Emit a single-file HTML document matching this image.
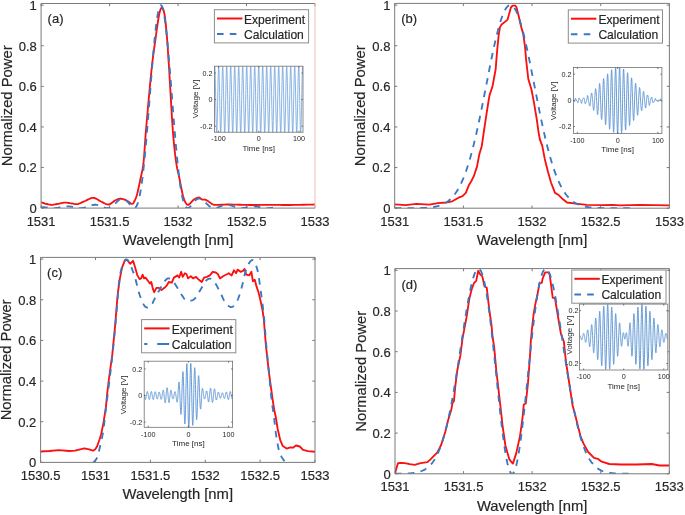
<!DOCTYPE html><html><head><meta charset="utf-8"><style>html,body{margin:0;padding:0;background:#fff}svg{display:block;will-change:transform}</style></head><body><svg width="685" height="515" viewBox="0 0 685 515">
<style>.ax{stroke:#7a7a7a;stroke-width:1;fill:none}.ai{stroke:#555;stroke-width:0.8}.tk,.lb,.lg{stroke:#262626;stroke-width:0.18px}.tk{font:13px "Liberation Sans", sans-serif;fill:#262626}.lb{font:14.8px "Liberation Sans", sans-serif;fill:#262626}.lg{font:12.1px "Liberation Sans", sans-serif;fill:#262626}.it{font:7.2px "Liberation Sans", sans-serif;fill:#262626}.il{font:8.0px "Liberation Sans", sans-serif;fill:#262626}</style>
<rect width="685" height="515" fill="#fff"/>
<clipPath id="ma"><rect x="41.1" y="3.5" width="273.9" height="204.6"/></clipPath>
<clipPath id="mb"><rect x="394.7" y="3.4" width="274.7" height="204.8"/></clipPath>
<clipPath id="mc"><rect x="40.6" y="257.4" width="274.4" height="205"/></clipPath>
<clipPath id="md"><rect x="395" y="268.6" width="274.3" height="205.2"/></clipPath>
<line x1="41.1" y1="208.1" x2="41.1" y2="205.4" class="ax"/>
<line x1="41.1" y1="3.5" x2="41.1" y2="6.2" class="ax"/>
<text x="41.1" y="225.7" class="tk" text-anchor="middle">1531</text>
<line x1="109.57" y1="208.1" x2="109.57" y2="205.4" class="ax"/>
<line x1="109.57" y1="3.5" x2="109.57" y2="6.2" class="ax"/>
<text x="109.57" y="225.7" class="tk" text-anchor="middle">1531.5</text>
<line x1="178.05" y1="208.1" x2="178.05" y2="205.4" class="ax"/>
<line x1="178.05" y1="3.5" x2="178.05" y2="6.2" class="ax"/>
<text x="178.05" y="225.7" class="tk" text-anchor="middle">1532</text>
<line x1="246.52" y1="208.1" x2="246.52" y2="205.4" class="ax"/>
<line x1="246.52" y1="3.5" x2="246.52" y2="6.2" class="ax"/>
<text x="246.52" y="225.7" class="tk" text-anchor="middle">1532.5</text>
<line x1="315" y1="208.1" x2="315" y2="205.4" class="ax"/>
<line x1="315" y1="3.5" x2="315" y2="6.2" class="ax"/>
<text x="315" y="225.7" class="tk" text-anchor="middle">1533</text>
<line x1="41.1" y1="208.1" x2="43.8" y2="208.1" class="ax"/>
<text x="36.8" y="213" class="tk" text-anchor="end">0</text>
<line x1="41.1" y1="167.52" x2="43.8" y2="167.52" class="ax"/>
<text x="36.8" y="172.42" class="tk" text-anchor="end">0.2</text>
<line x1="41.1" y1="126.94" x2="43.8" y2="126.94" class="ax"/>
<text x="36.8" y="131.84" class="tk" text-anchor="end">0.4</text>
<line x1="41.1" y1="86.36" x2="43.8" y2="86.36" class="ax"/>
<text x="36.8" y="91.26" class="tk" text-anchor="end">0.6</text>
<line x1="41.1" y1="45.78" x2="43.8" y2="45.78" class="ax"/>
<text x="36.8" y="50.68" class="tk" text-anchor="end">0.8</text>
<line x1="41.1" y1="5.2" x2="43.8" y2="5.2" class="ax"/>
<text x="36.8" y="10.1" class="tk" text-anchor="end">1</text>
<text x="178.05" y="244.8" class="lb" text-anchor="middle">Wavelength [nm]</text>
<text transform="translate(11.6 105.8) rotate(-90)" class="lb" text-anchor="middle">Normalized Power</text>
<g clip-path="url(#ma)">
<path d="M41 202.2 41.54 202.38 42.27 202.64 43.14 202.94 44.1 203.25 45.07 203.55 46 203.8 46.9 204.02 47.83 204.25 48.77 204.46 49.73 204.64 50.71 204.76 51.7 204.8 52.71 204.75 53.74 204.62 54.78 204.44 55.84 204.22 56.91 204 58 203.8 59.11 203.59 60.25 203.34 61.41 203.09 62.56 202.87 63.7 202.69 64.8 202.6 65.87 202.61 66.91 202.69 67.94 202.82 68.96 202.99 69.97 203.16 71 203.3 72.01 203.47 73.01 203.7 74 203.94 75.01 204.12 76.07 204.19 77.2 204.1 78.4 203.81 79.66 203.36 80.97 202.8 82.3 202.19 83.65 201.57 85 201 86.36 200.39 87.75 199.69 89.16 198.98 90.56 198.36 91.95 197.94 93.3 197.8 94.62 198.03 95.91 198.55 97.19 199.26 98.46 200.06 99.73 200.84 101 201.5 102.29 202.12 103.59 202.81 104.88 203.48 106.16 204.04 107.4 204.41 108.6 204.5 109.74 204.21 110.84 203.6 111.9 202.8 112.94 201.93 113.97 201.12 115 200.5 116.02 200.03 117.03 199.59 118.03 199.22 119.01 198.93 120 198.75 121 198.7 122.01 198.81 123.04 199.08 124.06 199.45 125.07 199.89 126.06 200.35 127 200.8 127.92 201.32 128.83 201.95 129.72 202.61 130.56 203.2 131.32 203.63 132 203.8 132.56 203.72 133.01 203.46 133.39 203.04 133.74 202.48 134.1 201.79 134.5 201 134.93 200.14 135.36 199.22 135.79 198.17 136.23 196.94 136.7 195.47 137.2 193.7 137.74 191.55 138.33 189.04 138.94 186.29 139.55 183.42 140.14 180.55 140.7 177.8 141.22 175.34 141.73 173.09 142.22 170.85 142.69 168.39 143.15 165.48 143.6 161.9 143.99 157.83 144.32 153.49 144.64 148.71 144.99 143.31 145.43 137.13 146 130 146.75 121.29 147.66 111.01 148.65 99.94 149.66 88.89 150.63 78.65 151.5 70 152.27 63.02 152.99 57.07 153.67 51.94 154.32 47.37 154.93 43.14 155.5 39 156.04 35.02 156.53 31.41 156.99 28.12 157.41 25.15 157.82 22.45 158.2 20 158.55 17.85 158.87 16.04 159.16 14.51 159.44 13.2 159.72 12.05 160 11 160.29 10.07 160.57 9.3 160.85 8.7 161.13 8.25 161.41 7.95 161.7 7.8 161.99 7.76 162.29 7.84 162.59 8.07 162.9 8.49 163.2 9.12 163.5 10 163.8 11.11 164.1 12.42 164.4 13.95 164.7 15.71 165 17.72 165.3 20 165.6 22.62 165.91 25.59 166.22 28.81 166.53 32.19 166.82 35.61 167.1 39 167.36 42.51 167.62 46.26 167.87 50.06 168.1 53.74 168.31 57.11 168.5 60 168.62 61.72 168.68 62.3 168.71 62.56 168.78 63.37 168.92 65.57 169.2 70 169.64 77.43 170.2 87.34 170.84 98.63 171.51 110.23 172.18 121.05 172.8 130 173.37 137.13 173.93 143.31 174.48 148.71 175.02 153.49 175.56 157.83 176.1 161.9 176.64 165.48 177.17 168.39 177.71 170.85 178.24 173.09 178.77 175.34 179.3 177.8 179.84 180.54 180.39 183.4 180.94 186.26 181.49 189 182.01 191.52 182.5 193.7 182.96 195.52 183.39 197.07 183.79 198.39 184.19 199.53 184.59 200.55 185 201.5 185.42 202.36 185.83 203.1 186.25 203.72 186.67 204.21 187.08 204.57 187.5 204.8 187.9 204.88 188.28 204.81 188.66 204.61 189.06 204.3 189.5 203.93 190 203.5 190.57 202.97 191.19 202.29 191.85 201.54 192.54 200.79 193.26 200.08 194 199.5 194.79 199 195.63 198.54 196.51 198.12 197.37 197.8 198.18 197.58 198.9 197.5 199.51 197.62 200.04 197.93 200.52 198.35 200.98 198.8 201.46 199.21 202 199.5 202.59 199.63 203.2 199.67 203.83 199.66 204.48 199.66 205.14 199.72 205.8 199.9 206.47 200.21 207.15 200.61 207.84 201.08 208.55 201.57 209.27 202.06 210 202.5 210.63 202.93 211.14 203.39 211.66 203.83 212.33 204.24 213.3 204.57 214.7 204.8 216.58 204.89 218.84 204.86 221.39 204.76 224.16 204.64 227.06 204.53 230 204.5 233.06 204.55 236.32 204.63 239.71 204.74 243.16 204.86 246.61 204.95 250 205 253.33 205 256.67 204.97 260 204.92 263.33 204.86 266.67 204.82 270 204.8 273.28 204.82 276.48 204.86 279.69 204.92 282.96 204.97 286.38 205 290 205 294.17 204.95 298.89 204.87 303.75 204.76 308.33 204.66 312.22 204.56 315 204.5" fill="none" stroke="#fb1010" stroke-width="1.85" stroke-linejoin="round"/>
<path d="M41.1 207.08 41.69 207.09 42.29 207.11 42.88 207.14 43.48 207.17 44.07 207.22 44.66 207.27 45.26 207.33 45.85 207.4 46.44 207.47 47.04 207.54 47.63 207.61 48.23 207.69 48.82 207.76 49.41 207.83 50.01 207.89 50.6 207.95 51.19 208 51.79 208.04 52.38 208.07 52.98 208.09 53.57 208.1 54.16 208.1 54.76 208.08 55.35 208.05 55.94 208.01 56.54 207.95 57.13 207.88 57.73 207.81 58.32 207.72 58.91 207.63 59.51 207.52 60.1 207.42 60.7 207.31 61.29 207.19 61.88 207.08 62.48 206.97 63.07 206.87 63.66 206.77 64.26 206.68 64.85 206.6 65.45 206.54 66.04 206.48 66.63 206.44 67.23 206.42 67.82 206.41 68.41 206.42 69.01 206.44 69.6 206.48 70.2 206.54 70.79 206.61 71.38 206.69 71.98 206.79 72.57 206.89 73.16 207.01 73.76 207.13 74.35 207.25 74.95 207.37 75.54 207.5 76.13 207.61 76.73 207.73 77.32 207.83 77.92 207.91 78.51 207.99 79.1 208.04 79.7 208.08 80.29 208.1 80.88 208.09 81.48 208.07 82.07 208.02 82.67 207.94 83.26 207.85 83.85 207.73 84.45 207.59 85.04 207.43 85.63 207.25 86.23 207.06 86.82 206.86 87.42 206.65 88.01 206.43 88.6 206.22 89.2 206 89.79 205.79 90.38 205.59 90.98 205.41 91.57 205.24 92.17 205.09 92.76 204.97 93.35 204.87 93.95 204.8 94.54 204.76 95.14 204.76 95.73 204.78 96.32 204.84 96.92 204.93 97.51 205.05 98.1 205.2 98.7 205.38 99.29 205.58 99.89 205.8 100.48 206.04 101.07 206.28 101.67 206.53 102.26 206.78 102.85 207.03 103.45 207.26 104.04 207.48 104.64 207.67 105.23 207.83 105.82 207.96 106.42 208.05 107.01 208.1 107.6 208.09 108.2 208.04 108.79 207.93 109.39 207.76 109.98 207.54 110.57 207.26 111.17 206.93 111.76 206.55 112.36 206.12 112.95 205.64 113.54 205.13 114.14 204.58 114.73 204.01 115.32 203.42 115.92 202.83 116.51 202.23 117.11 201.65 117.7 201.09 118.29 200.56 118.89 200.08 119.48 199.64 120.07 199.27 120.67 198.96 121.26 198.73 121.86 198.58 122.45 198.53 123.04 198.56 123.64 198.69 124.23 198.91 124.82 199.23 125.42 199.64 126.01 200.13 126.61 200.7 127.2 201.34 127.79 202.03 128.39 202.77 128.98 203.53 129.58 204.3 130.17 205.06 130.76 205.78 131.36 206.45 131.95 207.04 132.54 207.52 133.14 207.88 133.73 208.07 134.33 208.08 134.92 207.88 135.51 207.44 136.11 206.74 136.7 205.76 137.29 204.46 137.89 202.84 138.48 200.87 139.08 198.53 139.67 195.82 140.26 192.73 140.86 189.24 141.45 185.35 142.04 181.07 142.64 176.4 143.23 171.34 143.83 165.92 144.42 160.14 145.01 154.02 145.61 147.6 146.2 140.89 146.8 133.94 147.39 126.77 147.98 119.42 148.58 111.93 149.17 104.36 149.76 96.74 150.36 89.12 150.95 81.55 151.55 74.08 152.14 66.76 152.73 59.65 153.33 52.78 153.92 46.21 154.51 39.99 155.11 34.17 155.7 28.77 156.3 23.86 156.89 19.45 157.48 15.59 158.08 12.31 158.67 9.62 159.26 7.56 159.86 6.14 160.45 5.36 161.05 5.23 161.64 5.76 162.23 6.94 162.83 8.76 163.42 11.21 164.02 14.27 164.61 17.91 165.2 22.11 165.8 26.84 166.39 32.05 166.98 37.72 167.58 43.79 168.17 50.23 168.77 56.99 169.36 64.02 169.95 71.26 170.55 78.68 171.14 86.22 171.73 93.82 172.33 101.45 172.92 109.05 173.52 116.57 174.11 123.98 174.7 131.22 175.3 138.26 175.89 145.07 176.48 151.6 177.08 157.84 177.67 163.75 178.27 169.31 178.86 174.51 179.45 179.33 180.05 183.76 180.64 187.8 181.24 191.44 181.83 194.69 182.42 197.54 183.02 200.02 183.61 202.13 184.2 203.88 184.8 205.3 185.39 206.4 185.99 207.21 186.58 207.74 187.17 208.03 187.77 208.1 188.36 207.97 188.95 207.67 189.55 207.24 190.14 206.69 190.74 206.05 191.33 205.34 191.92 204.59 192.52 203.82 193.11 203.06 193.7 202.31 194.3 201.6 194.89 200.94 195.49 200.34 196.08 199.82 196.67 199.38 197.27 199.02 197.86 198.76 198.46 198.6 199.05 198.53 199.64 198.55 200.24 198.66 200.83 198.86 201.42 199.14 202.02 199.49 202.61 199.9 203.21 200.37 203.8 200.89 204.39 201.43 204.99 202.01 205.58 202.6 206.17 203.19 206.77 203.79 207.36 204.36 207.96 204.92 208.55 205.45 209.14 205.94 209.74 206.39 210.33 206.79 210.92 207.14 211.52 207.44 212.11 207.68 212.71 207.87 213.3 208 213.89 208.08 214.49 208.1 215.08 208.07 215.68 208 216.27 207.89 216.86 207.74 217.46 207.56 218.05 207.35 218.64 207.12 219.24 206.88 219.83 206.63 220.43 206.38 221.02 206.13 221.61 205.89 222.21 205.66 222.8 205.46 223.39 205.27 223.99 205.11 224.58 204.98 225.18 204.87 225.77 204.8 226.36 204.76 226.96 204.76 227.55 204.78 228.14 204.84 228.74 204.93 229.33 205.04 229.93 205.18 230.52 205.34 231.11 205.52 231.71 205.72 232.3 205.92 232.9 206.13 233.49 206.35 234.08 206.57 234.68 206.78 235.27 206.99 235.86 207.18 236.46 207.36 237.05 207.53 237.65 207.68 238.24 207.8 238.83 207.91 239.43 207.99 240.02 208.05 240.61 208.09 241.21 208.1 241.8 208.09 242.4 208.06 242.99 208.01 243.58 207.94 244.18 207.86 244.77 207.77 245.36 207.66 245.96 207.54 246.55 207.42 247.15 207.3 247.74 207.17 248.33 207.05 248.93 206.94 249.52 206.83 250.12 206.73 250.71 206.64 251.3 206.56 251.9 206.5 252.49 206.45 253.08 206.42 253.68 206.41 254.27 206.41 254.87 206.43 255.46 206.46 256.05 206.51 256.65 206.58 257.24 206.65 257.83 206.74 258.43 206.83 259.02 206.93 259.62 207.04 260.21 207.15 260.8 207.26 261.4 207.37 261.99 207.48 262.58 207.59 263.18 207.69 263.77 207.78 264.37 207.86 264.96 207.93 265.55 207.99 266.15 208.03 266.74 208.07 267.34 208.09 267.93 208.1 268.52 208.1 269.12 208.08 269.71 208.05 270.3 208.02 270.9 207.97 271.49 207.92 272.09 207.85 272.68 207.79 273.27 207.72 273.87 207.64 274.46 207.57 275.05 207.5 275.65 207.42 276.24 207.36 276.84 207.3 277.43 207.24 278.02 207.19" fill="none" stroke="#3a78c4" stroke-width="1.85" stroke-linejoin="round" stroke-dasharray="6.6 6.2"/>
</g>
<path d="M41.1 3.5H315M41.1 3.5V208.1H315" class="ax"/>
<line x1="315" y1="3.5" x2="315" y2="208.1" stroke="#efbcb0" stroke-width="1"/>
<text x="47.6" y="22.6" class="tk">(a)</text>
<line x1="394.7" y1="208.2" x2="394.7" y2="205.5" class="ax"/>
<line x1="394.7" y1="3.4" x2="394.7" y2="6.1" class="ax"/>
<text x="394.7" y="225.8" class="tk" text-anchor="middle">1531</text>
<line x1="463.38" y1="208.2" x2="463.38" y2="205.5" class="ax"/>
<line x1="463.38" y1="3.4" x2="463.38" y2="6.1" class="ax"/>
<text x="463.38" y="225.8" class="tk" text-anchor="middle">1531.5</text>
<line x1="532.05" y1="208.2" x2="532.05" y2="205.5" class="ax"/>
<line x1="532.05" y1="3.4" x2="532.05" y2="6.1" class="ax"/>
<text x="532.05" y="225.8" class="tk" text-anchor="middle">1532</text>
<line x1="600.72" y1="208.2" x2="600.72" y2="205.5" class="ax"/>
<line x1="600.72" y1="3.4" x2="600.72" y2="6.1" class="ax"/>
<text x="600.72" y="225.8" class="tk" text-anchor="middle">1532.5</text>
<line x1="669.4" y1="208.2" x2="669.4" y2="205.5" class="ax"/>
<line x1="669.4" y1="3.4" x2="669.4" y2="6.1" class="ax"/>
<text x="669.4" y="225.8" class="tk" text-anchor="middle">1533</text>
<line x1="394.7" y1="208.2" x2="397.4" y2="208.2" class="ax"/>
<line x1="669.4" y1="208.2" x2="666.7" y2="208.2" class="ax"/>
<text x="390.4" y="213.1" class="tk" text-anchor="end">0</text>
<line x1="394.7" y1="167.58" x2="397.4" y2="167.58" class="ax"/>
<line x1="669.4" y1="167.58" x2="666.7" y2="167.58" class="ax"/>
<text x="390.4" y="172.48" class="tk" text-anchor="end">0.2</text>
<line x1="394.7" y1="126.96" x2="397.4" y2="126.96" class="ax"/>
<line x1="669.4" y1="126.96" x2="666.7" y2="126.96" class="ax"/>
<text x="390.4" y="131.86" class="tk" text-anchor="end">0.4</text>
<line x1="394.7" y1="86.34" x2="397.4" y2="86.34" class="ax"/>
<line x1="669.4" y1="86.34" x2="666.7" y2="86.34" class="ax"/>
<text x="390.4" y="91.24" class="tk" text-anchor="end">0.6</text>
<line x1="394.7" y1="45.72" x2="397.4" y2="45.72" class="ax"/>
<line x1="669.4" y1="45.72" x2="666.7" y2="45.72" class="ax"/>
<text x="390.4" y="50.62" class="tk" text-anchor="end">0.8</text>
<line x1="394.7" y1="5.1" x2="397.4" y2="5.1" class="ax"/>
<line x1="669.4" y1="5.1" x2="666.7" y2="5.1" class="ax"/>
<text x="390.4" y="10" class="tk" text-anchor="end">1</text>
<text x="532.05" y="244.9" class="lb" text-anchor="middle">Wavelength [nm]</text>
<text transform="translate(365.2 105.8) rotate(-90)" class="lb" text-anchor="middle">Normalized Power</text>
<g clip-path="url(#mb)">
<path d="M394.7 204.3 405.8 205.2 416.3 203.9 429.4 204.6 438 203.2 445.9 202.5 452.3 201.3 458.5 197.7 462.6 196.1 465.8 192.9 469 184.9 471.4 181 473.8 176.2 477 166.6 479.4 153.9 481.8 145.9 484.1 130 487.2 109.3 489.5 95.4 492.6 86 495.7 69 496.4 59.6 497.3 49 498.7 35 499.9 27.4 501.6 24.5 507.4 19.9 510.9 7.6 512.5 5.6 515.2 5.6 516.4 7 518.5 15.2 520.9 25.7 523.2 33.9 525 46.7 526.1 59.6 528.3 79 531.4 89.2 533.8 101.6 536.9 120.2 538.5 132 539.9 139.6 542.3 145.9 544.7 158.7 547.9 171.4 551 182.5 555 192.9 559 195.3 563 199.3 567 202.5 575.7 203.6 586.9 204.8 602.8 205.2 612.4 204.8 620 205.3 640 204.8 655 205.2 669.4 205.4" fill="none" stroke="#fb1010" stroke-width="1.85" stroke-linejoin="round"/>
<path d="M394.7 208.2 395.29 208.2 395.88 208.2 396.48 208.2 397.07 208.2 397.66 208.2 398.25 208.2 398.84 208.2 399.44 208.2 400.03 208.19 400.62 208.19 401.21 208.19 401.81 208.19 402.4 208.19 402.99 208.19 403.58 208.19 404.17 208.19 404.77 208.19 405.36 208.19 405.95 208.18 406.54 208.18 407.13 208.18 407.73 208.18 408.32 208.18 408.91 208.17 409.5 208.17 410.09 208.17 410.69 208.16 411.28 208.16 411.87 208.15 412.46 208.15 413.05 208.14 413.65 208.14 414.24 208.13 414.83 208.13 415.42 208.12 416.02 208.11 416.61 208.1 417.2 208.09 417.79 208.08 418.38 208.07 418.98 208.05 419.57 208.04 420.16 208.02 420.75 208.01 421.34 207.99 421.94 207.97 422.53 207.95 423.12 207.92 423.71 207.9 424.3 207.87 424.9 207.84 425.49 207.81 426.08 207.77 426.67 207.73 427.26 207.69 427.86 207.64 428.45 207.59 429.04 207.54 429.63 207.48 430.23 207.42 430.82 207.36 431.41 207.29 432 207.21 432.59 207.13 433.19 207.04 433.78 206.94 434.37 206.84 434.96 206.73 435.55 206.61 436.15 206.48 436.74 206.35 437.33 206.2 437.92 206.05 438.51 205.88 439.11 205.71 439.7 205.52 440.29 205.32 440.88 205.1 441.47 204.87 442.07 204.63 442.66 204.37 443.25 204.1 443.84 203.81 444.44 203.5 445.03 203.17 445.62 202.82 446.21 202.46 446.8 202.07 447.4 201.65 447.99 201.22 448.58 200.76 449.17 200.27 449.76 199.76 450.36 199.22 450.95 198.66 451.54 198.06 452.13 197.43 452.72 196.77 453.32 196.08 453.91 195.35 454.5 194.59 455.09 193.79 455.68 192.95 456.28 192.08 456.87 191.16 457.46 190.2 458.05 189.21 458.65 188.16 459.24 187.08 459.83 185.95 460.42 184.77 461.01 183.54 461.61 182.27 462.2 180.95 462.79 179.57 463.38 178.15 463.97 176.68 464.57 175.15 465.16 173.57 465.75 171.93 466.34 170.25 466.93 168.5 467.53 166.71 468.12 164.86 468.71 162.95 469.3 160.99 469.89 158.97 470.49 156.9 471.08 154.77 471.67 152.59 472.26 150.35 472.86 148.07 473.45 145.72 474.04 143.33 474.63 140.89 475.22 138.4 475.82 135.86 476.41 133.27 477 130.64 477.59 127.96 478.18 125.24 478.78 122.48 479.37 119.69 479.96 116.85 480.55 113.99 481.14 111.09 481.74 108.17 482.33 105.22 482.92 102.25 483.51 99.26 484.1 96.25 484.7 93.23 485.29 90.2 485.88 87.16 486.47 84.12 487.07 81.09 487.66 78.05 488.25 75.03 488.84 72.02 489.43 69.02 490.03 66.05 490.62 63.1 491.21 60.18 491.8 57.29 492.39 54.44 492.99 51.63 493.58 48.87 494.17 46.16 494.76 43.5 495.35 40.9 495.95 38.36 496.54 35.89 497.13 33.49 497.72 31.16 498.31 28.91 498.91 26.74 499.5 24.66 500.09 22.67 500.68 20.77 501.28 18.96 501.87 17.26 502.46 15.65 503.05 14.15 503.64 12.76 504.24 11.48 504.83 10.31 505.42 9.26 506.01 8.32 506.6 7.49 507.2 6.79 507.79 6.21 508.38 5.75 508.97 5.41 509.56 5.2 510.16 5.1 510.75 5.14 511.34 5.29 511.93 5.57 512.52 5.97 513.12 6.49 513.71 7.14 514.3 7.9 514.89 8.79 515.49 9.79 516.08 10.9 516.67 12.13 517.26 13.47 517.85 14.91 518.45 16.47 519.04 18.12 519.63 19.88 520.22 21.74 520.81 23.68 521.41 25.72 522 27.85 522.59 30.06 523.18 32.35 523.77 34.72 524.37 37.15 524.96 39.66 525.55 42.23 526.14 44.86 526.74 47.55 527.33 50.29 527.92 53.08 528.51 55.91 529.1 58.78 529.7 61.68 530.29 64.62 530.88 67.58 531.47 70.57 532.06 73.57 532.66 76.59 533.25 79.62 533.84 82.65 534.43 85.69 535.02 88.73 535.62 91.76 536.21 94.79 536.8 97.8 537.39 100.8 537.98 103.78 538.58 106.74 539.17 109.68 539.76 112.59 540.35 115.47 540.95 118.32 541.54 121.13 542.13 123.91 542.72 126.65 543.31 129.34 543.91 132 544.5 134.61 545.09 137.17 545.68 139.69 546.27 142.16 546.87 144.57 547.46 146.94 548.05 149.25 548.64 151.51 549.23 153.72 549.83 155.87 550.42 157.97 551.01 160.02 551.6 162 552.19 163.94 552.79 165.82 553.38 167.64 553.97 169.41 554.56 171.12 555.16 172.78 555.75 174.39 556.34 175.94 556.93 177.44 557.52 178.89 558.12 180.29 558.71 181.64 559.3 182.93 559.89 184.18 560.48 185.38 561.08 186.54 561.67 187.64 562.26 188.71 562.85 189.73 563.44 190.7 564.04 191.64 564.63 192.53 565.22 193.39 565.81 194.21 566.4 194.99 567 195.73 567.59 196.44 568.18 197.12 568.77 197.76 569.37 198.37 569.96 198.95 570.55 199.51 571.14 200.03 571.73 200.53 572.33 201 572.92 201.45 573.51 201.87 574.1 202.27 574.69 202.65 575.29 203 575.88 203.34 576.47 203.66 577.06 203.96 577.65 204.24 578.25 204.51 578.84 204.76 579.43 204.99 580.02 205.21 580.61 205.42 581.21 205.62 581.8 205.8 582.39 205.97 582.98 206.13 583.58 206.28 584.17 206.42 584.76 206.55 585.35 206.67 585.94 206.79 586.54 206.89 587.13 206.99 587.72 207.08 588.31 207.17 588.9 207.25 589.5 207.32 590.09 207.39 590.68 207.46 591.27 207.51 591.86 207.57 592.46 207.62 593.05 207.67 593.64 207.71 594.23 207.75 594.82 207.79 595.42 207.82 596.01 207.85 596.6 207.88 597.19 207.91 597.79 207.94 598.38 207.96 598.97 207.98 599.56 208 600.15 208.02 600.75 208.03 601.34 208.05 601.93 208.06 602.52 208.07 603.11 208.09 603.71 208.1 604.3 208.11 604.89 208.11 605.48 208.12 606.07 208.13 606.67 208.14 607.26 208.14 607.85 208.15 608.44 208.15 609.03 208.16 609.63 208.16 610.22 208.17 610.81 208.17 611.4 208.17 612 208.17 612.59 208.18 613.18 208.18 613.77 208.18 614.36 208.18 614.96 208.18 615.55 208.19 616.14 208.19 616.73 208.19 617.32 208.19 617.92 208.19 618.51 208.19 619.1 208.19 619.69 208.19 620.28 208.19 620.88 208.2 621.47 208.2 622.06 208.2 622.65 208.2 623.24 208.2 623.84 208.2 624.43 208.2 625.02 208.2 625.61 208.2 626.21 208.2 626.8 208.2 627.39 208.2 627.98 208.2 628.57 208.2 629.17 208.2 629.76 208.2 630.35 208.2 630.94 208.2" fill="none" stroke="#3a78c4" stroke-width="1.85" stroke-linejoin="round" stroke-dasharray="6.6 6.2"/>
</g>
<path d="M394.7 3.4H669.4M394.7 3.4V208.2H669.4" class="ax"/>
<line x1="669.4" y1="3.4" x2="669.4" y2="208.2" stroke="#7a7a7a" stroke-width="1"/>
<text x="401.2" y="23.4" class="tk">(b)</text>
<line x1="40.6" y1="462.4" x2="40.6" y2="459.7" class="ax"/>
<line x1="40.6" y1="257.4" x2="40.6" y2="260.1" class="ax"/>
<text x="40.6" y="480" class="tk" text-anchor="middle">1530.5</text>
<line x1="95.48" y1="462.4" x2="95.48" y2="459.7" class="ax"/>
<line x1="95.48" y1="257.4" x2="95.48" y2="260.1" class="ax"/>
<text x="95.48" y="480" class="tk" text-anchor="middle">1531</text>
<line x1="150.36" y1="462.4" x2="150.36" y2="459.7" class="ax"/>
<line x1="150.36" y1="257.4" x2="150.36" y2="260.1" class="ax"/>
<text x="150.36" y="480" class="tk" text-anchor="middle">1531.5</text>
<line x1="205.24" y1="462.4" x2="205.24" y2="459.7" class="ax"/>
<line x1="205.24" y1="257.4" x2="205.24" y2="260.1" class="ax"/>
<text x="205.24" y="480" class="tk" text-anchor="middle">1532</text>
<line x1="260.12" y1="462.4" x2="260.12" y2="459.7" class="ax"/>
<line x1="260.12" y1="257.4" x2="260.12" y2="260.1" class="ax"/>
<text x="260.12" y="480" class="tk" text-anchor="middle">1532.5</text>
<line x1="315" y1="462.4" x2="315" y2="459.7" class="ax"/>
<line x1="315" y1="257.4" x2="315" y2="260.1" class="ax"/>
<text x="315" y="480" class="tk" text-anchor="middle">1533</text>
<line x1="40.6" y1="462.4" x2="43.3" y2="462.4" class="ax"/>
<line x1="315" y1="462.4" x2="312.3" y2="462.4" class="ax"/>
<text x="36.3" y="467.3" class="tk" text-anchor="end">0</text>
<line x1="40.6" y1="421.74" x2="43.3" y2="421.74" class="ax"/>
<line x1="315" y1="421.74" x2="312.3" y2="421.74" class="ax"/>
<text x="36.3" y="426.64" class="tk" text-anchor="end">0.2</text>
<line x1="40.6" y1="381.08" x2="43.3" y2="381.08" class="ax"/>
<line x1="315" y1="381.08" x2="312.3" y2="381.08" class="ax"/>
<text x="36.3" y="385.98" class="tk" text-anchor="end">0.4</text>
<line x1="40.6" y1="340.42" x2="43.3" y2="340.42" class="ax"/>
<line x1="315" y1="340.42" x2="312.3" y2="340.42" class="ax"/>
<text x="36.3" y="345.32" class="tk" text-anchor="end">0.6</text>
<line x1="40.6" y1="299.76" x2="43.3" y2="299.76" class="ax"/>
<line x1="315" y1="299.76" x2="312.3" y2="299.76" class="ax"/>
<text x="36.3" y="304.66" class="tk" text-anchor="end">0.8</text>
<line x1="40.6" y1="259.1" x2="43.3" y2="259.1" class="ax"/>
<line x1="315" y1="259.1" x2="312.3" y2="259.1" class="ax"/>
<text x="36.3" y="264" class="tk" text-anchor="end">1</text>
<text x="177.8" y="499.1" class="lb" text-anchor="middle">Wavelength [nm]</text>
<text transform="translate(11.1 359.9) rotate(-90)" class="lb" text-anchor="middle">Normalized Power</text>
<g clip-path="url(#mc)">
<path d="M40.6 451.5 49.3 451 58.7 450.1 69.2 451 75 450.6 84.4 448.3 89 449.4 93.1 450.7 95.3 449.3 97 446.6 98.4 442.8 99.8 438.8 101.1 434.3 102.5 427.8 103.8 420.7 105.9 407.1 107.2 393.6 108.8 380 112.3 354.4 115 327.2 117.2 300 118 292 119.9 278.4 122.1 267.4 125 260.1 127.2 260.1 130.1 263.8 133.1 260.8 135.3 268.1 137.4 275.4 139.6 279.1 141.1 278.4 142.6 274.7 144 278.4 145.5 277.6 147.7 280.5 149.9 283.5 151.3 282 152.8 288.6 154.2 292.2 156.4 287.8 158.6 287.8 161.5 290 164.5 287.8 166.6 285.7 168.8 282 171.8 282.7 173.9 277.6 177.6 275.4 179.1 277.6 181.2 271.8 182.7 276.9 184.9 273.2 186.4 274 188.1 278.4 190.8 276.2 193 278.4 196 276.9 198.9 279.8 201.8 282 204 277.6 206.9 276.9 209.8 275.4 212.7 271.8 215.7 272.5 217.8 274 220 278.4 223 276.2 225.9 274.7 228.8 273.2 231.7 275.4 233.9 270.3 236.1 273.2 237.6 269.6 240.5 271.8 242.7 271.1 244.6 268.9 246.3 274.7 249.2 275.4 251.4 271.8 252.9 281.3 254.8 279.8 256.5 286.4 258.7 293 260.6 301 262.5 310 263.8 319.2 265.8 344.4 268.8 371.6 272.7 400 274.2 410 275.6 416 277.7 429 280.3 440.4 282.8 446.1 286.6 448.6 290.4 447.3 292.9 447.7 296 445.5 299.8 446.5 303 449.9 308 451.1 315 451.8" fill="none" stroke="#fb1010" stroke-width="1.85" stroke-linejoin="round"/>
<path d="M93.1 462.6 93.55 462.14 94.19 461.58 94.93 460.88 95.73 459.98 96.5 458.84 97.2 457.4 97.83 455.55 98.45 453.3 99.06 450.81 99.64 448.22 100.19 445.7 100.7 443.4 101.16 441.46 101.56 439.77 101.94 438.16 102.3 436.4 102.68 434.32 103.1 431.7 103.55 428.48 104.01 424.79 104.49 420.77 104.99 416.54 105.49 412.25 106 408 106.53 403.77 107.07 399.43 107.63 395.02 108.19 390.56 108.75 386.08 109.3 381.6 109.84 377.11 110.39 372.59 110.94 368.05 111.47 363.5 112 358.94 112.5 354.4 112.98 349.87 113.45 345.33 113.91 340.8 114.35 336.27 114.78 331.73 115.2 327.2 115.61 322.58 116.02 317.85 116.41 313.12 116.79 308.5 117.16 304.09 117.5 300 117.81 296.21 118.09 292.64 118.36 289.27 118.62 286.13 118.89 283.2 119.2 280.5 119.53 278.06 119.87 275.89 120.23 273.94 120.6 272.16 120.99 270.49 121.4 268.9 121.85 267.38 122.34 265.96 122.85 264.66 123.36 263.5 123.85 262.47 124.3 261.6 124.7 260.88 125.06 260.3 125.4 259.86 125.74 259.57 126.1 259.41 126.5 259.4 126.94 259.54 127.41 259.83 127.91 260.26 128.41 260.82 128.91 261.5 129.4 262.3 129.88 263.24 130.36 264.35 130.84 265.58 131.33 266.89 131.81 268.25 132.3 269.6 132.8 270.95 133.3 272.32 133.8 273.73 134.3 275.2 134.8 276.75 135.3 278.4 135.79 280.2 136.27 282.16 136.76 284.2 137.24 286.24 137.72 288.2 138.2 290 138.68 291.65 139.14 293.2 139.61 294.67 140.08 296.08 140.58 297.45 141.1 298.8 141.66 300.17 142.24 301.56 142.85 302.91 143.47 304.15 144.09 305.24 144.7 306.1 145.32 306.73 145.96 307.17 146.59 307.44 147.22 307.59 147.83 307.63 148.4 307.6 148.92 307.51 149.4 307.33 149.85 307.05 150.3 306.65 150.78 306.1 151.3 305.4 151.87 304.47 152.48 303.32 153.11 302.03 153.74 300.67 154.38 299.34 155 298.1 155.6 296.96 156.2 295.85 156.8 294.76 157.4 293.67 158 292.59 158.6 291.5 159.21 290.38 159.83 289.24 160.45 288.11 161.07 286.99 161.69 285.91 162.3 284.9 162.91 283.92 163.53 282.95 164.15 282.02 164.76 281.17 165.34 280.42 165.9 279.8 166.41 279.31 166.89 278.93 167.34 278.65 167.8 278.47 168.28 278.39 168.8 278.4 169.37 278.51 169.98 278.73 170.61 279.04 171.24 279.44 171.88 279.93 172.5 280.5 173.1 281.16 173.68 281.93 174.26 282.77 174.84 283.7 175.45 284.68 176.1 285.7 176.79 286.8 177.51 288.01 178.25 289.27 179 290.55 179.76 291.81 180.5 293 181.25 294.19 182.02 295.41 182.79 296.61 183.54 297.73 184.25 298.72 184.9 299.5 185.45 300.07 185.9 300.48 186.31 300.75 186.74 300.91 187.25 300.98 187.9 301 188.73 300.97 189.71 300.88 190.77 300.71 191.84 300.43 192.88 300.03 193.8 299.5 194.61 298.8 195.35 297.94 196.04 296.96 196.72 295.9 197.4 294.8 198.1 293.7 198.84 292.55 199.59 291.33 200.34 290.06 201.08 288.79 201.81 287.55 202.5 286.4 203.16 285.29 203.79 284.18 204.4 283.11 205 282.12 205.6 281.24 206.2 280.5 206.8 279.91 207.4 279.43 208 279.06 208.6 278.8 209.2 278.65 209.8 278.6 210.41 278.65 211.03 278.8 211.65 279.06 212.27 279.43 212.89 279.91 213.5 280.5 214.1 281.24 214.7 282.12 215.3 283.11 215.9 284.18 216.5 285.29 217.1 286.4 217.71 287.54 218.33 288.73 218.95 289.96 219.57 291.21 220.19 292.47 220.8 293.7 221.4 294.94 221.98 296.21 222.56 297.49 223.14 298.73 223.75 299.91 224.4 301 225.1 302.03 225.84 303.03 226.6 303.96 227.36 304.81 228.1 305.53 228.8 306.1 229.45 306.52 230.06 306.82 230.64 306.99 231.22 307.05 231.8 306.98 232.4 306.8 233.01 306.51 233.63 306.11 234.25 305.59 234.87 304.94 235.49 304.15 236.1 303.2 236.71 302.06 237.33 300.73 237.94 299.26 238.55 297.68 239.14 296.05 239.7 294.4 240.24 292.72 240.75 290.98 241.24 289.17 241.73 287.32 242.21 285.43 242.7 283.5 243.18 281.47 243.65 279.32 244.11 277.13 244.59 274.97 245.08 272.94 245.6 271.1 246.16 269.44 246.76 267.89 247.38 266.46 248 265.16 248.62 264 249.2 263 249.76 262.15 250.31 261.43 250.86 260.86 251.39 260.44 251.9 260.19 252.4 260.1 252.88 260.17 253.33 260.39 253.77 260.78 254.2 261.33 254.64 262.07 255.1 263 255.58 264.14 256.08 265.49 256.58 267.02 257.08 268.71 257.55 270.55 258 272.5 258.41 274.62 258.79 276.93 259.14 279.39 259.49 281.93 259.84 284.52 260.2 287.1 260.57 289.7 260.95 292.37 261.32 295.07 261.7 297.8 262.06 300.52 262.4 303.2 262.72 305.74 263.02 308.13 263.31 310.52 263.6 313.03 263.89 315.81 264.2 319 264.51 322.66 264.83 326.69 265.14 330.99 265.47 335.44 265.82 339.95 266.2 344.4 266.61 348.82 267.05 353.29 267.51 357.81 267.97 362.38 268.44 366.98 268.9 371.6 269.35 376.4 269.81 381.42 270.27 386.48 270.73 391.38 271.17 395.95 271.6 400 272.01 403.43 272.41 406.36 272.8 408.95 273.18 411.38 273.54 413.81 273.9 416.4 274.23 419.15 274.54 421.91 274.83 424.67 275.13 427.42 275.45 430.14 275.8 432.8 276.19 435.49 276.62 438.24 277.06 440.95 277.51 443.54 277.96 445.92 278.4 448 278.8 449.71 279.17 451.12 279.54 452.31 279.93 453.39 280.37 454.46 280.9 455.6 281.57 456.88 282.39 458.24 283.26 459.58 284.09 460.81 284.8 461.85 285.3 462.6" fill="none" stroke="#3a78c4" stroke-width="1.85" stroke-linejoin="round" stroke-dasharray="6.6 6.2"/>
</g>
<path d="M40.6 257.4H315M40.6 257.4V462.4H315" class="ax"/>
<line x1="315" y1="257.4" x2="315" y2="462.4" stroke="#7a7a7a" stroke-width="1"/>
<text x="47.1" y="277.4" class="tk">(c)</text>
<line x1="395" y1="473.8" x2="395" y2="471.1" class="ax"/>
<line x1="395" y1="268.6" x2="395" y2="271.3" class="ax"/>
<text x="395" y="491.4" class="tk" text-anchor="middle">1531</text>
<line x1="463.57" y1="473.8" x2="463.57" y2="471.1" class="ax"/>
<line x1="463.57" y1="268.6" x2="463.57" y2="271.3" class="ax"/>
<text x="463.57" y="491.4" class="tk" text-anchor="middle">1531.5</text>
<line x1="532.15" y1="473.8" x2="532.15" y2="471.1" class="ax"/>
<line x1="532.15" y1="268.6" x2="532.15" y2="271.3" class="ax"/>
<text x="532.15" y="491.4" class="tk" text-anchor="middle">1532</text>
<line x1="600.72" y1="473.8" x2="600.72" y2="471.1" class="ax"/>
<line x1="600.72" y1="268.6" x2="600.72" y2="271.3" class="ax"/>
<text x="600.72" y="491.4" class="tk" text-anchor="middle">1532.5</text>
<line x1="669.3" y1="473.8" x2="669.3" y2="471.1" class="ax"/>
<line x1="669.3" y1="268.6" x2="669.3" y2="271.3" class="ax"/>
<text x="669.3" y="491.4" class="tk" text-anchor="middle">1533</text>
<line x1="395" y1="473.8" x2="397.7" y2="473.8" class="ax"/>
<line x1="669.3" y1="473.8" x2="666.6" y2="473.8" class="ax"/>
<text x="390.7" y="478.7" class="tk" text-anchor="end">0</text>
<line x1="395" y1="433.1" x2="397.7" y2="433.1" class="ax"/>
<line x1="669.3" y1="433.1" x2="666.6" y2="433.1" class="ax"/>
<text x="390.7" y="438" class="tk" text-anchor="end">0.2</text>
<line x1="395" y1="392.4" x2="397.7" y2="392.4" class="ax"/>
<line x1="669.3" y1="392.4" x2="666.6" y2="392.4" class="ax"/>
<text x="390.7" y="397.3" class="tk" text-anchor="end">0.4</text>
<line x1="395" y1="351.7" x2="397.7" y2="351.7" class="ax"/>
<line x1="669.3" y1="351.7" x2="666.6" y2="351.7" class="ax"/>
<text x="390.7" y="356.6" class="tk" text-anchor="end">0.6</text>
<line x1="395" y1="311" x2="397.7" y2="311" class="ax"/>
<line x1="669.3" y1="311" x2="666.6" y2="311" class="ax"/>
<text x="390.7" y="315.9" class="tk" text-anchor="end">0.8</text>
<line x1="395" y1="270.3" x2="397.7" y2="270.3" class="ax"/>
<line x1="669.3" y1="270.3" x2="666.6" y2="270.3" class="ax"/>
<text x="390.7" y="275.2" class="tk" text-anchor="end">1</text>
<text x="532.15" y="510.5" class="lb" text-anchor="middle">Wavelength [nm]</text>
<text transform="translate(365.5 371.2) rotate(-90)" class="lb" text-anchor="middle">Normalized Power</text>
<g clip-path="url(#md)">
<path d="M395 473.3 396.5 468 398 463.2 400.9 462.8 404.9 463.2 409.8 464.2 414.7 464.8 420.6 463.2 427.5 462.2 430.5 459.3 433.4 456.3 437.4 452.4 441.3 444.5 445.3 431.7 448.2 419.9 451.2 410 452.7 402.4 453.9 401.4 455.3 386.1 457.4 369.7 460.4 355.4 462.6 338 464.1 330.2 466.4 318.1 469.4 298.4 471.7 289.3 473.9 283.2 476.2 280.9 478.2 270.8 480 274.1 482.3 276.4 484.5 286.2 486.8 287.8 488.3 301.4 489.8 313.5 491.4 324.1 492.6 337 494.2 347.3 496.2 369.7 499.3 396.3 501.3 414 502.6 426 505.4 445.5 509.3 459.3 512.9 463.6 516.2 453.4 520.1 435.6 522.4 418.8 523.8 404.5 525.8 403.5 527.9 384 529.9 357.5 530.9 340 532 328.7 533.5 315 535 305.9 537.3 295.3 539.5 283.2 541.8 282.9 542.6 278.7 545.2 272.3 548.6 272.3 549.7 274.9 551.2 286.2 552.7 297.6 555 298.4 557 310.5 559.4 325 561 334 563.9 341.8 566 362.1 569.3 383.5 572.5 404.9 575.2 415 577.8 425.5 580.5 436 583.4 443.4 588.2 452 594 457.8 597.8 458.8 601.7 461.7 609.4 464 620.9 464.5 636.3 464.5 651.8 464 659.5 465.5 669.2 465.5" fill="none" stroke="#fb1010" stroke-width="1.85" stroke-linejoin="round"/>
<path d="M395 473.77 395.59 473.77 396.19 473.76 396.78 473.76 397.38 473.75 397.97 473.75 398.57 473.74 399.16 473.73 399.76 473.73 400.35 473.72 400.95 473.71 401.54 473.7 402.14 473.69 402.73 473.67 403.33 473.66 403.92 473.64 404.51 473.62 405.11 473.6 405.7 473.58 406.3 473.56 406.89 473.53 407.49 473.5 408.08 473.47 408.68 473.43 409.27 473.39 409.87 473.35 410.46 473.3 411.06 473.25 411.65 473.2 412.25 473.14 412.84 473.07 413.43 473 414.03 472.92 414.62 472.83 415.22 472.74 415.81 472.63 416.41 472.52 417 472.4 417.6 472.27 418.19 472.13 418.79 471.97 419.38 471.8 419.98 471.62 420.57 471.43 421.17 471.22 421.76 470.99 422.35 470.75 422.95 470.48 423.54 470.2 424.14 469.89 424.73 469.57 425.33 469.21 425.92 468.84 426.52 468.43 427.11 468 427.71 467.54 428.3 467.05 428.9 466.52 429.49 465.96 430.08 465.36 430.68 464.73 431.27 464.05 431.87 463.33 432.46 462.57 433.06 461.76 433.65 460.9 434.25 459.99 434.84 459.03 435.44 458.01 436.03 456.94 436.63 455.81 437.22 454.62 437.82 453.36 438.41 452.04 439 450.66 439.6 449.2 440.19 447.68 440.79 446.08 441.38 444.41 441.98 442.66 442.57 440.83 443.17 438.92 443.76 436.94 444.36 434.87 444.95 432.71 445.55 430.48 446.14 428.16 446.74 425.75 447.33 423.26 447.92 420.68 448.52 418.02 449.11 415.27 449.71 412.44 450.3 409.52 450.9 406.52 451.49 403.44 452.09 400.28 452.68 397.04 453.28 393.72 453.87 390.34 454.47 386.88 455.06 383.36 455.66 379.78 456.25 376.13 456.84 372.44 457.44 368.7 458.03 364.91 458.63 361.09 459.22 357.23 459.82 353.36 460.41 349.46 461.01 345.55 461.6 341.64 462.2 337.74 462.79 333.85 463.39 329.98 463.98 326.14 464.58 322.35 465.17 318.6 465.76 314.91 466.36 311.29 466.95 307.75 467.55 304.29 468.14 300.94 468.74 297.69 469.33 294.57 469.93 291.58 470.52 288.72 471.12 286.02 471.71 283.48 472.31 281.1 472.9 278.91 473.5 276.91 474.09 275.11 474.68 273.51 475.28 272.13 475.87 270.97 476.47 270.05 477.06 269.36 477.66 268.92 478.25 268.73 478.85 268.79 479.44 269.12 480.04 269.7 480.63 270.55 481.23 271.67 481.82 273.06 482.42 274.71 483.01 276.64 483.6 278.83 484.2 281.28 484.79 284 485.39 286.97 485.98 290.19 486.58 293.66 487.17 297.36 487.77 301.29 488.36 305.44 488.96 309.8 489.55 314.35 490.15 319.1 490.74 324.01 491.33 329.08 491.93 334.3 492.52 339.65 493.12 345.11 493.71 350.66 494.31 356.3 494.9 362 495.5 367.74 496.09 373.5 496.69 379.28 497.28 385.04 497.88 390.77 498.47 396.45 499.07 402.06 499.66 407.58 500.25 413 500.85 418.28 501.44 423.42 502.04 428.4 502.63 433.2 503.23 437.79 503.82 442.18 504.42 446.33 505.01 450.24 505.61 453.88 506.2 457.26 506.8 460.35 507.39 463.14 507.99 465.62 508.58 467.79 509.17 469.64 509.77 471.15 510.36 472.33 510.96 473.16 511.55 473.65 512.15 473.8 512.74 473.6 513.34 473.05 513.93 472.16 514.53 470.93 515.12 469.36 515.72 467.46 516.31 465.24 516.91 462.71 517.5 459.87 518.09 456.73 518.69 453.31 519.28 449.62 519.88 445.67 520.47 441.48 521.07 437.07 521.66 432.43 522.26 427.61 522.85 422.6 523.45 417.44 524.04 412.13 524.64 406.7 525.23 401.16 525.83 395.54 526.42 389.85 527.01 384.11 527.61 378.35 528.2 372.57 528.8 366.81 529.39 361.07 529.99 355.38 530.58 349.76 531.18 344.21 531.77 338.77 532.37 333.45 532.96 328.25 533.56 323.2 534.15 318.32 534.75 313.6 535.34 309.08 535.93 304.76 536.53 300.64 537.12 296.75 537.72 293.08 538.31 289.65 538.91 286.47 539.5 283.54 540.1 280.87 540.69 278.46 541.29 276.31 541.88 274.43 542.48 272.82 543.07 271.47 543.67 270.4 544.26 269.59 544.85 269.05 545.45 268.76 546.04 268.74 546.64 268.98 547.23 269.46 547.83 270.18 548.42 271.15 549.02 272.34 549.61 273.75 550.21 275.38 550.8 277.22 551.4 279.25 551.99 281.47 552.59 283.88 553.18 286.44 553.77 289.17 554.37 292.05 554.96 295.07 555.56 298.21 556.15 301.47 556.75 304.85 557.34 308.31 557.94 311.87 558.53 315.5 559.13 319.2 559.72 322.96 560.32 326.76 560.91 330.61 561.5 334.48 562.1 338.37 562.69 342.28 563.29 346.19 563.88 350.09 564.48 353.98 565.07 357.86 565.67 361.71 566.26 365.53 566.86 369.31 567.45 373.04 568.05 376.73 568.64 380.36 569.24 383.93 569.83 387.44 570.42 390.89 571.02 394.26 571.61 397.57 572.21 400.79 572.8 403.94 573.4 407.01 573.99 410 574.59 412.9 575.18 415.72 575.78 418.46 576.37 421.11 576.97 423.67 577.56 426.15 578.16 428.54 578.75 430.85 579.34 433.07 579.94 435.21 580.53 437.26 581.13 439.24 581.72 441.13 582.32 442.94 582.91 444.68 583.51 446.34 584.1 447.93 584.7 449.44 585.29 450.89 585.89 452.26 586.48 453.57 587.08 454.82 587.67 456 588.26 457.12 588.86 458.18 589.45 459.19 590.05 460.14 590.64 461.04 591.24 461.89 591.83 462.69 592.43 463.45 593.02 464.16 593.62 464.83 594.21 465.46 594.81 466.05 595.4 466.61 596 467.13 596.59 467.62 597.18 468.07 597.78 468.5 598.37 468.9 598.97 469.27 599.56 469.62 600.16 469.94 600.75 470.24 601.35 470.53 601.94 470.79 602.54 471.03 603.13 471.25 603.73 471.46 604.32 471.65 604.92 471.83 605.51 472 606.1 472.15 606.7 472.29 607.29 472.42 607.89 472.54 608.48 472.65 609.08 472.75 609.67 472.84 610.27 472.93 610.86 473.01 611.46 473.08 612.05 473.15 612.65 473.21 613.24 473.26 613.84 473.31 614.43 473.36 615.02 473.4 615.62 473.44 616.21 473.47 616.81 473.51 617.4 473.53 618 473.56 618.59 473.58 619.19 473.61 619.78 473.63 620.38 473.64 620.97 473.66 621.57 473.67 622.16 473.69 622.75 473.7 623.35 473.71 623.94 473.72 624.54 473.73 625.13 473.74 625.73 473.74 626.32 473.75 626.92 473.75 627.51 473.76 628.11 473.76 628.7 473.77 629.3 473.77 629.89 473.77 630.49 473.78 631.08 473.78 631.67 473.78 632.27 473.78" fill="none" stroke="#3a78c4" stroke-width="1.85" stroke-linejoin="round" stroke-dasharray="6.6 6.2"/>
</g>
<path d="M395 268.6H669.3M395 268.6V473.8H669.3" class="ax"/>
<line x1="669.3" y1="268.6" x2="669.3" y2="473.8" stroke="#7a7a7a" stroke-width="1"/>
<text x="401.5" y="288.9" class="tk">(d)</text>
<rect x="214.4" y="9.7" width="94.2" height="33.2" fill="#fff" stroke="#8c8c8c" stroke-width="1"/>
<line x1="217" y1="18.5" x2="242.4" y2="18.5" stroke="#fb1010" stroke-width="2"/>
<line x1="217" y1="34.1" x2="242.4" y2="34.1" stroke="#3a78c4" stroke-width="2" stroke-dasharray="6.6 6.2"/>
<text x="244" y="23.6" class="lg">Experiment</text>
<text x="244" y="39" class="lg">Calculation</text>
<rect x="568.3" y="9.9" width="94.2" height="33.2" fill="#fff" stroke="#8c8c8c" stroke-width="1"/>
<line x1="570.9" y1="18.7" x2="596.3" y2="18.7" stroke="#fb1010" stroke-width="2"/>
<line x1="570.9" y1="34.3" x2="596.3" y2="34.3" stroke="#3a78c4" stroke-width="2" stroke-dasharray="6.6 6.2"/>
<text x="598.4" y="23.8" class="lg">Experiment</text>
<text x="598.4" y="39.2" class="lg">Calculation</text>
<rect x="141.6" y="319.6" width="94.2" height="33.2" fill="#fff" stroke="#8c8c8c" stroke-width="1"/>
<line x1="144.2" y1="328.4" x2="169.6" y2="328.4" stroke="#fb1010" stroke-width="2"/>
<line x1="144.2" y1="344" x2="169.6" y2="344" stroke="#3a78c4" stroke-width="2" stroke-dasharray="3.2 9.8 12"/>
<text x="171.7" y="333.5" class="lg">Experiment</text>
<text x="171.7" y="348.9" class="lg">Calculation</text>
<rect x="571.8" y="270" width="94.2" height="33.2" fill="#fff" stroke="#8c8c8c" stroke-width="1"/>
<line x1="574.4" y1="278.8" x2="599.8" y2="278.8" stroke="#fb1010" stroke-width="2"/>
<line x1="574.4" y1="294.4" x2="599.8" y2="294.4" stroke="#3a78c4" stroke-width="2" stroke-dasharray="6.6 6.2"/>
<text x="601.4" y="283.9" class="lg">Experiment</text>
<text x="601.4" y="299.3" class="lg">Calculation</text>
<rect x="214.5" y="66.2" width="88.5" height="66" fill="#fff"/>
<clipPath id="cla"><rect x="214.5" y="66.2" width="88.5" height="66"/></clipPath>
<path d="M214.5 67.98 214.56 67.11 214.63 66.57 214.69 66.35 214.75 66.47 214.82 66.9 214.88 67.66 214.94 68.74 215.01 70.12 215.07 71.79 215.13 73.74 215.2 75.94 215.26 78.37 215.32 81.01 215.39 83.84 215.45 86.82 215.51 89.93 215.58 93.13 215.64 96.4 215.7 99.7 215.77 103 215.83 106.26 215.89 109.46 215.95 112.56 216.02 115.54 216.08 118.35 216.14 120.98 216.21 123.41 216.27 125.59 216.33 127.52 216.4 129.17 216.46 130.54 216.52 131.59 216.59 132.33 216.65 132.75 216.71 132.84 216.78 132.6 216.84 132.04 216.9 131.16 216.97 129.97 217.03 128.47 217.09 126.69 217.16 124.65 217.22 122.36 217.28 119.84 217.35 117.12 217.41 114.23 217.47 111.2 217.54 108.05 217.6 104.82 217.66 101.53 217.73 98.23 217.79 94.94 217.85 91.7 217.92 88.53 217.98 85.48 218.04 82.56 218.11 79.81 218.17 77.26 218.23 74.93 218.3 72.84 218.36 71.01 218.42 69.47 218.49 68.22 218.55 67.29 218.61 66.67 218.68 66.38 218.74 66.41 218.8 66.77 218.86 67.46 218.93 68.46 218.99 69.77 219.05 71.38 219.12 73.26 219.18 75.4 219.24 77.79 219.31 80.38 219.37 83.17 219.43 86.12 219.5 89.2 219.56 92.39 219.62 95.64 219.69 98.94 219.75 102.24 219.81 105.51 219.88 108.73 219.94 111.86 220 114.86 220.07 117.72 220.13 120.39 220.19 122.86 220.26 125.11 220.32 127.1 220.38 128.82 220.45 130.25 220.51 131.37 220.57 132.19 220.64 132.68 220.7 132.85 220.76 132.69 220.83 132.2 220.89 131.39 220.95 130.27 221.02 128.84 221.08 127.13 221.14 125.14 221.21 122.91 221.27 120.44 221.33 117.77 221.4 114.91 221.46 111.91 221.52 108.79 221.59 105.57 221.65 102.3 221.71 99 221.77 95.7 221.84 92.44 221.9 89.26 221.96 86.17 222.03 83.22 222.09 80.43 222.15 77.83 222.22 75.45 222.28 73.3 222.34 71.41 222.41 69.8 222.47 68.48 222.53 67.47 222.6 66.78 222.66 66.41 222.72 66.37 222.79 66.66 222.85 67.27 222.91 68.2 222.98 69.44 223.04 70.98 223.1 72.8 223.17 74.89 223.23 77.21 223.29 79.76 223.36 82.51 223.42 85.42 223.48 88.48 223.55 91.64 223.61 94.88 223.67 98.17 223.74 101.47 223.8 104.76 223.86 107.99 223.93 111.14 223.99 114.18 224.05 117.07 224.12 119.79 224.18 122.31 224.24 124.61 224.31 126.66 224.37 128.44 224.43 129.94 224.49 131.14 224.56 132.03 224.62 132.6 224.68 132.84 224.75 132.76 224.81 132.34 224.87 131.61 224.94 130.56 225 129.2 225.06 127.55 225.13 125.63 225.19 123.45 225.25 121.03 225.32 118.4 225.38 115.59 225.44 112.62 225.51 109.52 225.57 106.32 225.63 103.06 225.7 99.76 225.76 96.46 225.82 93.19 225.89 89.99 225.95 86.88 226.01 83.89 226.08 81.06 226.14 78.42 226.2 75.98 226.27 73.77 226.33 71.82 226.39 70.15 226.46 68.76 226.52 67.68 226.58 66.91 226.65 66.47 226.71 66.35 226.77 66.56 226.84 67.1 226.9 67.96 226.96 69.13 227.03 70.6 227.09 72.36 227.15 74.38 227.22 76.65 227.28 79.16 227.34 81.86 227.4 84.73 227.47 87.76 227.53 90.9 227.59 94.13 227.66 97.41 227.72 100.71 227.78 104 227.85 107.25 227.91 110.42 227.97 113.49 228.04 116.41 228.1 119.18 228.16 121.75 228.23 124.1 228.29 126.21 228.35 128.05 228.42 129.62 228.48 130.89 228.54 131.85 228.61 132.49 228.67 132.81 228.73 132.8 228.8 132.47 228.86 131.81 228.92 130.83 228.99 129.54 229.05 127.96 229.11 126.1 229.18 123.97 229.24 121.61 229.3 119.03 229.37 116.26 229.43 113.32 229.49 110.25 229.56 107.07 229.62 103.82 229.68 100.53 229.75 97.22 229.81 93.95 229.87 90.72 229.94 87.59 230 84.57 230.06 81.7 230.13 79.01 230.19 76.52 230.25 74.26 230.31 72.25 230.38 70.51 230.44 69.06 230.5 67.9 230.57 67.06 230.63 66.54 230.69 66.35 230.76 66.49 230.82 66.95 230.88 67.73 230.95 68.83 231.01 70.23 231.07 71.92 231.14 73.89 231.2 76.11 231.26 78.56 231.33 81.22 231.39 84.05 231.45 87.05 231.52 90.16 231.58 93.37 231.64 96.64 231.71 99.94 231.77 103.24 231.83 106.5 231.9 109.69 231.96 112.79 232.02 115.75 232.09 118.55 232.15 121.17 232.21 123.57 232.28 125.74 232.34 127.65 232.4 129.28 232.47 130.62 232.53 131.66 232.59 132.37 232.66 132.77 232.72 132.84 232.78 132.57 232.85 131.99 232.91 131.08 232.97 129.87 233.04 128.35 233.1 126.55 233.16 124.49 233.22 122.18 233.29 119.64 233.35 116.91 233.41 114.01 233.48 110.97 233.54 107.81 233.6 104.58 233.67 101.29 233.73 97.99 233.79 94.7 233.86 91.46 233.92 88.3 233.98 85.26 234.05 82.35 234.11 79.62 234.17 77.08 234.24 74.76 234.3 72.69 234.36 70.89 234.43 69.37 234.49 68.14 234.55 67.23 234.62 66.64 234.68 66.37 234.74 66.43 234.81 66.81 234.87 67.52 234.93 68.55 235 69.88 235.06 71.51 235.12 73.41 235.19 75.57 235.25 77.97 235.31 80.58 235.38 83.38 235.44 86.34 235.5 89.43 235.57 92.62 235.63 95.88 235.69 99.18 235.76 102.48 235.82 105.75 235.88 108.96 235.94 112.08 236.01 115.08 236.07 117.92 236.13 120.58 236.2 123.04 236.26 125.26 236.32 127.23 236.39 128.93 236.45 130.34 236.51 131.45 236.58 132.24 236.64 132.71 236.7 132.85 236.77 132.66 236.83 132.15 236.89 131.32 236.96 130.17 237.02 128.73 237.08 126.99 237.15 124.99 237.21 122.73 237.27 120.25 237.34 117.56 237.4 114.7 237.46 111.69 237.53 108.55 237.59 105.33 237.65 102.05 237.72 98.75 237.78 95.46 237.84 92.21 237.91 89.03 237.97 85.95 238.03 83.01 238.1 80.23 238.16 77.65 238.22 75.28 238.29 73.15 238.35 71.28 238.41 69.69 238.48 68.4 238.54 67.41 238.6 66.74 238.67 66.4 238.73 66.38 238.79 66.69 238.85 67.33 238.92 68.28 238.98 69.55 239.04 71.11 239.11 72.95 239.17 75.05 239.23 77.39 239.3 79.96 239.36 82.72 239.42 85.64 239.49 88.71 239.55 91.88 239.61 95.12 239.68 98.41 239.74 101.72 239.8 105 239.87 108.22 239.93 111.37 239.99 114.4 240.06 117.28 240.12 119.98 240.18 122.49 240.25 124.77 240.31 126.8 240.37 128.56 240.44 130.04 240.5 131.22 240.56 132.08 240.63 132.63 240.69 132.85 240.75 132.74 240.82 132.3 240.88 131.54 240.94 130.47 241.01 129.09 241.07 127.42 241.13 125.48 241.2 123.28 241.26 120.84 241.32 118.2 241.39 115.38 241.45 112.39 241.51 109.29 241.58 106.08 241.64 102.82 241.7 99.52 241.76 96.22 241.83 92.95 241.89 89.76 241.95 86.65 242.02 83.68 242.08 80.86 242.14 78.23 242.21 75.81 242.27 73.62 242.33 71.69 242.4 70.04 242.46 68.67 242.52 67.61 242.59 66.87 242.65 66.45 242.71 66.36 242.78 66.59 242.84 67.15 242.9 68.03 242.97 69.23 243.03 70.72 243.09 72.5 243.16 74.54 243.22 76.83 243.28 79.35 243.35 82.06 243.41 84.95 243.47 87.99 243.54 91.13 243.6 94.37 243.66 97.65 243.73 100.95 243.79 104.24 243.85 107.48 243.92 110.65 243.98 113.71 244.04 116.62 244.11 119.37 244.17 121.93 244.23 124.26 244.3 126.35 244.36 128.18 244.42 129.72 244.48 130.97 244.55 131.91 244.61 132.53 244.67 132.82 244.74 132.79 244.8 132.43 244.86 131.75 244.93 130.74 244.99 129.43 245.05 127.83 245.12 125.95 245.18 123.81 245.24 121.43 245.31 118.83 245.37 116.05 245.43 113.1 245.5 110.02 245.56 106.83 245.62 103.58 245.69 100.28 245.75 96.98 245.81 93.71 245.88 90.49 245.94 87.36 246 84.36 246.07 81.5 246.13 78.82 246.19 76.35 246.26 74.11 246.32 72.11 246.38 70.39 246.45 68.96 246.51 67.83 246.57 67.01 246.64 66.52 246.7 66.35 246.76 66.51 246.83 66.99 246.89 67.8 246.95 68.92 247.02 70.35 247.08 72.06 247.14 74.04 247.21 76.28 247.27 78.75 247.33 81.42 247.39 84.27 247.46 87.27 247.52 90.4 247.58 93.61 247.65 96.89 247.71 100.19 247.77 103.48 247.84 106.74 247.9 109.92 247.96 113.01 248.03 115.96 248.09 118.75 248.15 121.35 248.22 123.74 248.28 125.89 248.34 127.78 248.41 129.39 248.47 130.71 248.53 131.72 248.6 132.41 248.66 132.78 248.72 132.83 248.79 132.54 248.85 131.93 248.91 131 248.98 129.76 249.04 128.23 249.1 126.41 249.17 124.33 249.23 122 249.29 119.45 249.36 116.71 249.42 113.79 249.48 110.74 249.55 107.58 249.61 104.34 249.67 101.05 249.74 97.75 249.8 94.46 249.86 91.23 249.93 88.08 249.99 85.04 250.05 82.15 250.12 79.42 250.18 76.9 250.24 74.6 250.3 72.55 250.37 70.77 250.43 69.27 250.49 68.07 250.56 67.17 250.62 66.6 250.68 66.36 250.75 66.44 250.81 66.85 250.87 67.59 250.94 68.64 251 69.99 251.06 71.64 251.13 73.56 251.19 75.74 251.25 78.16 251.32 80.78 251.38 83.59 251.44 86.56 251.51 89.66 251.57 92.86 251.63 96.12 251.7 99.42 251.76 102.72 251.82 105.99 251.89 109.19 251.95 112.31 252.01 115.29 252.08 118.12 252.14 120.77 252.2 123.21 252.27 125.42 252.33 127.37 252.39 129.04 252.46 130.43 252.52 131.51 252.58 132.28 252.65 132.73 252.71 132.85 252.77 132.64 252.84 132.1 252.9 131.25 252.96 130.08 253.03 128.61 253.09 126.86 253.15 124.83 253.21 122.56 253.28 120.06 253.34 117.36 253.4 114.48 253.47 111.46 253.53 108.32 253.59 105.09 253.66 101.81 253.72 98.51 253.78 95.22 253.85 91.97 253.91 88.8 253.97 85.73 254.04 82.8 254.1 80.04 254.16 77.47 254.23 75.11 254.29 73 254.35 71.16 254.42 69.59 254.48 68.32 254.54 67.35 254.61 66.71 254.67 66.39 254.73 66.39 254.8 66.73 254.86 67.39 254.92 68.37 254.99 69.65 255.05 71.23 255.11 73.09 255.18 75.21 255.24 77.58 255.3 80.16 255.37 82.93 255.43 85.86 255.49 88.94 255.56 92.11 255.62 95.36 255.68 98.66 255.75 101.96 255.81 105.24 255.87 108.46 255.93 111.59 256 114.61 256.06 117.48 256.12 120.17 256.19 122.66 256.25 124.93 256.31 126.94 256.38 128.68 256.44 130.14 256.5 131.29 256.57 132.13 256.63 132.65 256.69 132.85 256.76 132.72 256.82 132.26 256.88 131.47 256.95 130.38 257.01 128.98 257.07 127.29 257.14 125.32 257.2 123.11 257.26 120.66 257.33 118 257.39 115.16 257.45 112.17 257.52 109.05 257.58 105.85 257.64 102.58 257.71 99.28 257.77 95.98 257.83 92.72 257.9 89.52 257.96 86.43 258.02 83.47 258.09 80.66 258.15 78.04 258.21 75.64 258.28 73.47 258.34 71.56 258.4 69.93 258.47 68.58 258.53 67.55 258.59 66.83 258.66 66.43 258.72 66.36 258.78 66.62 258.84 67.21 258.91 68.11 258.97 69.33 259.03 70.84 259.1 72.64 259.16 74.7 259.22 77.01 259.29 79.54 259.35 82.27 259.41 85.17 259.48 88.21 259.54 91.37 259.6 94.61 259.67 97.89 259.73 101.19 259.79 104.48 259.86 107.72 259.92 110.88 259.98 113.93 260.05 116.83 260.11 119.57 260.17 122.11 260.24 124.42 260.3 126.5 260.36 128.3 260.43 129.83 260.49 131.05 260.55 131.97 260.62 132.56 260.68 132.83 260.74 132.78 260.81 132.39 260.87 131.68 260.93 130.66 261 129.33 261.06 127.7 261.12 125.8 261.19 123.64 261.25 121.24 261.31 118.63 261.38 115.83 261.44 112.88 261.5 109.79 261.57 106.6 261.63 103.34 261.69 100.04 261.75 96.74 261.82 93.47 261.88 90.26 261.94 87.14 262.01 84.14 262.07 81.3 262.13 78.63 262.2 76.18 262.26 73.95 262.32 71.98 262.39 70.28 262.45 68.87 262.51 67.76 262.58 66.97 262.64 66.5 262.7 66.35 262.77 66.53 262.83 67.04 262.89 67.87 262.96 69.02 263.02 70.46 263.08 72.2 263.15 74.2 263.21 76.45 263.27 78.94 263.34 81.62 263.4 84.48 263.46 87.5 263.53 90.63 263.59 93.85 263.65 97.13 263.72 100.43 263.78 103.72 263.84 106.97 263.91 110.15 263.97 113.23 264.03 116.17 264.1 118.95 264.16 121.54 264.22 123.91 264.29 126.04 264.35 127.91 264.41 129.5 264.47 130.79 264.54 131.78 264.6 132.45 264.66 132.8 264.73 132.82 264.79 132.51 264.85 131.88 264.92 130.92 264.98 129.66 265.04 128.1 265.11 126.27 265.17 124.16 265.23 121.82 265.3 119.26 265.36 116.5 265.42 113.57 265.49 110.51 265.55 107.34 265.61 104.1 265.68 100.81 265.74 97.5 265.8 94.22 265.87 90.99 265.93 87.85 265.99 84.82 266.06 81.94 266.12 79.23 266.18 76.73 266.25 74.44 266.31 72.41 266.37 70.65 266.44 69.17 266.5 67.99 266.56 67.12 266.63 66.58 266.69 66.35 266.75 66.46 266.82 66.9 266.88 67.65 266.94 68.73 267.01 70.1 267.07 71.77 267.13 73.71 267.2 75.91 267.26 78.34 267.32 80.98 267.38 83.81 267.45 86.79 267.51 89.89 267.57 93.1 267.64 96.36 267.7 99.66 267.76 102.96 267.83 106.23 267.89 109.43 267.95 112.53 268.02 115.5 268.08 118.32 268.14 120.96 268.21 123.38 268.27 125.57 268.33 127.5 268.4 129.16 268.46 130.52 268.52 131.58 268.59 132.33 268.65 132.75 268.71 132.84 268.78 132.61 268.84 132.05 268.9 131.17 268.97 129.98 269.03 128.49 269.09 126.72 269.16 124.67 269.22 122.38 269.28 119.87 269.35 117.15 269.41 114.26 269.47 111.23 269.54 108.08 269.6 104.85 269.66 101.57 269.73 98.27 269.79 94.98 269.85 91.73 269.92 88.57 269.98 85.51 270.04 82.59 270.11 79.84 270.17 77.29 270.23 74.95 270.29 72.86 270.36 71.03 270.42 69.48 270.48 68.23 270.55 67.29 270.61 66.67 270.67 66.38 270.74 66.41 270.8 66.77 270.86 67.45 270.93 68.45 270.99 69.76 271.05 71.36 271.12 73.24 271.18 75.38 271.24 77.76 271.31 80.35 271.37 83.14 271.43 86.09 271.5 89.17 271.56 92.35 271.62 95.6 271.69 98.9 271.75 102.2 271.81 105.48 271.88 108.69 271.94 111.82 272 114.83 272.07 117.69 272.13 120.36 272.19 122.84 272.26 125.08 272.32 127.08 272.38 128.8 272.45 130.23 272.51 131.36 272.57 132.18 272.64 132.68 272.7 132.85 272.76 132.69 272.83 132.21 272.89 131.4 272.95 130.28 273.02 128.86 273.08 127.15 273.14 125.17 273.2 122.93 273.27 120.47 273.33 117.8 273.39 114.95 273.46 111.95 273.52 108.82 273.58 105.61 273.65 102.33 273.71 99.03 273.77 95.74 273.84 92.48 273.9 89.29 273.96 86.21 274.03 83.25 274.09 80.46 274.15 77.86 274.22 75.47 274.28 73.32 274.34 71.43 274.41 69.82 274.47 68.5 274.53 67.48 274.6 66.79 274.66 66.42 274.72 66.37 274.79 66.65 274.85 67.26 274.91 68.19 274.98 69.43 275.04 70.96 275.1 72.78 275.17 74.86 275.23 77.19 275.29 79.73 275.36 82.48 275.42 85.39 275.48 88.44 275.55 91.6 275.61 94.85 275.67 98.13 275.74 101.44 275.8 104.72 275.86 107.95 275.92 111.11 275.99 114.14 276.05 117.04 276.11 119.76 276.18 122.28 276.24 124.58 276.3 126.64 276.37 128.42 276.43 129.93 276.49 131.13 276.56 132.02 276.62 132.59 276.68 132.84 276.75 132.76 276.81 132.35 276.87 131.62 276.94 130.57 277 129.22 277.06 127.57 277.13 125.65 277.19 123.47 277.25 121.06 277.32 118.43 277.38 115.62 277.44 112.65 277.51 109.55 277.57 106.36 277.63 103.1 277.7 99.8 277.76 96.5 277.82 93.23 277.89 90.02 277.95 86.91 278.01 83.93 278.08 81.09 278.14 78.44 278.2 76 278.27 73.8 278.33 71.84 278.39 70.16 278.46 68.78 278.52 67.69 278.58 66.92 278.65 66.47 278.71 66.35 278.77 66.56 278.83 67.09 278.9 67.95 278.96 69.11 279.02 70.58 279.09 72.33 279.15 74.36 279.21 76.63 279.28 79.13 279.34 81.83 279.4 84.7 279.47 87.72 279.53 90.86 279.59 94.09 279.66 97.37 279.72 100.67 279.78 103.96 279.85 107.21 279.91 110.38 279.97 113.45 280.04 116.38 280.1 119.15 280.16 121.72 280.23 124.07 280.29 126.18 280.35 128.03 280.42 129.6 280.48 130.88 280.54 131.84 280.61 132.49 280.67 132.81 280.73 132.81 280.8 132.47 280.86 131.82 280.92 130.84 280.99 129.56 281.05 127.98 281.11 126.12 281.18 124 281.24 121.64 281.3 119.06 281.37 116.29 281.43 113.35 281.49 110.28 281.56 107.11 281.62 103.86 281.68 100.56 281.74 97.26 281.81 93.98 281.87 90.76 281.93 87.62 282 84.6 282.06 81.73 282.12 79.04 282.19 76.55 282.25 74.29 282.31 72.27 282.38 70.53 282.44 69.07 282.5 67.91 282.57 67.07 282.63 66.55 282.69 66.35 282.76 66.48 282.82 66.94 282.88 67.72 282.95 68.82 283.01 70.21 283.07 71.9 283.14 73.87 283.2 76.08 283.26 78.53 283.33 81.18 283.39 84.02 283.45 87.01 283.52 90.13 283.58 93.34 283.64 96.61 283.71 99.91 283.77 103.2 283.83 106.46 283.9 109.66 283.96 112.75 284.02 115.72 284.09 118.52 284.15 121.14 284.21 123.55 284.28 125.72 284.34 127.63 284.4 129.27 284.46 130.61 284.53 131.65 284.59 132.37 284.65 132.77 284.72 132.84 284.78 132.58 284.84 132 284.91 131.09 284.97 129.88 285.03 128.37 285.1 126.57 285.16 124.51 285.22 122.21 285.29 119.67 285.35 116.95 285.41 114.05 285.48 111 285.54 107.85 285.6 104.61 285.67 101.33 285.73 98.03 285.79 94.74 285.86 91.5 285.92 88.34 285.98 85.29 286.05 82.38 286.11 79.65 286.17 77.11 286.24 74.79 286.3 72.72 286.36 70.91 286.43 69.38 286.49 68.15 286.55 67.24 286.62 66.64 286.68 66.37 286.74 66.42 286.81 66.81 286.87 67.51 286.93 68.54 287 69.86 287.06 71.49 287.12 73.39 287.19 75.55 287.25 77.94 287.31 80.55 287.37 83.35 287.44 86.31 287.5 89.4 287.56 92.59 287.63 95.84 287.69 99.14 287.75 102.44 287.82 105.71 287.88 108.93 287.94 112.05 288.01 115.04 288.07 117.89 288.13 120.55 288.2 123.01 288.26 125.24 288.32 127.21 288.39 128.91 288.45 130.33 288.51 131.43 288.58 132.23 288.64 132.7 288.7 132.85 288.77 132.67 288.83 132.16 288.89 131.33 288.96 130.19 289.02 128.75 289.08 127.01 289.15 125.01 289.21 122.76 289.27 120.28 289.34 117.59 289.4 114.73 289.46 111.72 289.53 108.59 289.59 105.37 289.65 102.09 289.72 98.79 289.78 95.5 289.84 92.24 289.91 89.06 289.97 85.99 290.03 83.04 290.1 80.27 290.16 77.68 290.22 75.31 290.28 73.17 290.35 71.3 290.41 69.71 290.47 68.41 290.54 67.42 290.6 66.75 290.66 66.4 290.73 66.38 290.79 66.69 290.85 67.32 290.92 68.27 290.98 69.53 291.04 71.09 291.11 72.92 291.17 75.02 291.23 77.37 291.3 79.93 291.36 82.69 291.42 85.61 291.49 88.67 291.55 91.84 291.61 95.09 291.68 98.38 291.74 101.68 291.8 104.96 291.87 108.19 291.93 111.33 291.99 114.36 292.06 117.24 292.12 119.95 292.18 122.46 292.25 124.74 292.31 126.78 292.37 128.54 292.44 130.02 292.5 131.21 292.56 132.07 292.63 132.62 292.69 132.84 292.75 132.74 292.82 132.31 292.88 131.55 292.94 130.48 293.01 129.11 293.07 127.44 293.13 125.5 293.19 123.3 293.26 120.87 293.32 118.23 293.38 115.41 293.45 112.43 293.51 109.32 293.57 106.12 293.64 102.85 293.7 99.56 293.76 96.26 293.83 92.99 293.89 89.79 293.95 86.69 294.02 83.71 294.08 80.89 294.14 78.26 294.21 75.83 294.27 73.64 294.33 71.71 294.4 70.05 294.46 68.69 294.52 67.62 294.59 66.88 294.65 66.45 294.71 66.36 294.78 66.59 294.84 67.15 294.9 68.02 294.97 69.21 295.03 70.7 295.09 72.47 295.16 74.52 295.22 76.8 295.28 79.32 295.35 82.03 295.41 84.92 295.47 87.95 295.54 91.1 295.6 94.33 295.66 97.61 295.73 100.91 295.79 104.2 295.85 107.45 295.91 110.61 295.98 113.67 296.04 116.59 296.1 119.34 296.17 121.9 296.23 124.24 296.29 126.33 296.36 128.16 296.42 129.71 296.48 130.96 296.55 131.9 296.61 132.52 296.67 132.82 296.74 132.79 296.8 132.44 296.86 131.76 296.93 130.76 296.99 129.45 297.05 127.85 297.12 125.97 297.18 123.83 297.24 121.46 297.31 118.86 297.37 116.08 297.43 113.13 297.5 110.05 297.56 106.87 297.62 103.61 297.69 100.32 297.75 97.02 297.81 93.74 297.88 90.53 297.94 87.4 298 84.39 298.07 81.53 298.13 78.85 298.19 76.38 298.26 74.13 298.32 72.13 298.38 70.41 298.45 68.98 298.51 67.84 298.57 67.02 298.64 66.52 298.7 66.35 298.76 66.51 298.82 66.99 298.89 67.79 298.95 68.91 299.01 70.33 299.08 72.04 299.14 74.02 299.2 76.25 299.27 78.72 299.33 81.39 299.39 84.24 299.46 87.24 299.52 90.36 299.58 93.57 299.65 96.85 299.71 100.15 299.77 103.44 299.84 106.7 299.9 109.89 299.96 112.97 300.03 115.93 300.09 118.72 300.15 121.33 300.22 123.72 300.28 125.87 300.34 127.76 300.41 129.38 300.47 130.7 300.53 131.71 300.6 132.41 300.66 132.78 300.72 132.83 300.79 132.55 300.85 131.94 300.91 131.02 300.98 129.78 301.04 128.25 301.1 126.43 301.17 124.35 301.23 122.03 301.29 119.48 301.36 116.74 301.42 113.83 301.48 110.78 301.55 107.61 301.61 104.37 301.67 101.09 301.73 97.78 301.8 94.5 301.86 91.26 301.92 88.11 301.99 85.07 302.05 82.18 302.11 79.45 302.18 76.93 302.24 74.63 302.3 72.57 302.37 70.79 302.43 69.28 302.49 68.08 302.56 67.18 302.62 66.61 302.68 66.36 302.75 66.44 302.81 66.85 302.87 67.58 302.94 68.62 303 69.97" fill="none" stroke="#6a9fdc" stroke-width="0.8" clip-path="url(#cla)"/>
<rect x="214.5" y="66.2" width="88.5" height="66" fill="none" stroke="#707070" stroke-width="0.8"/>
<line x1="218.52" y1="132.2" x2="218.52" y2="130.7" class="ai"/>
<line x1="218.52" y1="66.2" x2="218.52" y2="67.7" class="ai"/>
<text x="218.52" y="141.4" class="it" text-anchor="middle">-100</text>
<line x1="258.75" y1="132.2" x2="258.75" y2="130.7" class="ai"/>
<line x1="258.75" y1="66.2" x2="258.75" y2="67.7" class="ai"/>
<text x="258.75" y="141.4" class="it" text-anchor="middle">0</text>
<line x1="298.98" y1="132.2" x2="298.98" y2="130.7" class="ai"/>
<line x1="298.98" y1="66.2" x2="298.98" y2="67.7" class="ai"/>
<text x="298.98" y="141.4" class="it" text-anchor="middle">100</text>
<line x1="214.5" y1="126.2" x2="216" y2="126.2" class="ai"/>
<line x1="303" y1="126.2" x2="301.5" y2="126.2" class="ai"/>
<text x="212.5" y="128.8" class="it" text-anchor="end">-0.2</text>
<line x1="214.5" y1="99.6" x2="216" y2="99.6" class="ai"/>
<line x1="303" y1="99.6" x2="301.5" y2="99.6" class="ai"/>
<text x="212.5" y="102.2" class="it" text-anchor="end">0</text>
<line x1="214.5" y1="73" x2="216" y2="73" class="ai"/>
<line x1="303" y1="73" x2="301.5" y2="73" class="ai"/>
<text x="212.5" y="75.6" class="it" text-anchor="end">0.2</text>
<text x="258.75" y="150.8" class="il" text-anchor="middle">Time [ns]</text>
<text transform="translate(197.6 98.9) rotate(-90)" class="il" text-anchor="middle">Voltage [V]</text>
<rect x="573.4" y="67.5" width="88.5" height="65.9" fill="#fff"/>
<clipPath id="clb"><rect x="573.4" y="67.5" width="88.5" height="65.9"/></clipPath>
<path d="M573.4 100.8 573.46 100.75 573.53 100.71 573.59 100.7 573.65 100.71 573.72 100.75 573.78 100.82 573.84 100.92 573.91 101.04 573.97 101.18 574.03 101.33 574.1 101.48 574.16 101.62 574.22 101.74 574.29 101.84 574.35 101.91 574.41 101.93 574.48 101.9 574.54 101.83 574.6 101.7 574.67 101.53 574.73 101.3 574.79 101.04 574.85 100.74 574.92 100.42 574.98 100.08 575.04 99.74 575.11 99.41 575.17 99.1 575.23 98.82 575.3 98.58 575.36 98.39 575.42 98.25 575.49 98.17 575.55 98.15 575.61 98.18 575.68 98.26 575.74 98.4 575.8 98.57 575.87 98.78 575.93 99.01 575.99 99.25 576.06 99.49 576.12 99.73 576.18 99.95 576.25 100.15 576.31 100.32 576.37 100.47 576.44 100.59 576.5 100.67 576.56 100.73 576.63 100.77 576.69 100.79 576.75 100.8 576.82 100.8 576.88 100.82 576.94 100.84 577.01 100.87 577.07 100.93 577.13 101.01 577.2 101.12 577.26 101.25 577.32 101.4 577.39 101.57 577.45 101.75 577.51 101.94 577.58 102.12 577.64 102.29 577.7 102.43 577.76 102.54 577.83 102.61 577.89 102.64 577.95 102.62 578.02 102.54 578.08 102.4 578.14 102.21 578.21 101.97 578.27 101.68 578.33 101.36 578.4 101.01 578.46 100.64 578.52 100.26 578.59 99.88 578.65 99.52 578.71 99.18 578.78 98.88 578.84 98.62 578.9 98.4 578.97 98.24 579.03 98.12 579.09 98.06 579.16 98.05 579.22 98.09 579.28 98.16 579.35 98.26 579.41 98.39 579.47 98.54 579.54 98.69 579.6 98.85 579.66 98.99 579.73 99.13 579.79 99.25 579.85 99.35 579.92 99.44 579.98 99.51 580.04 99.57 580.11 99.61 580.17 99.66 580.23 99.7 580.3 99.76 580.36 99.83 580.42 99.91 580.49 100.03 580.55 100.17 580.61 100.35 580.67 100.55 580.74 100.79 580.8 101.05 580.86 101.33 580.93 101.62 580.99 101.92 581.05 102.22 581.12 102.51 581.18 102.77 581.24 103 581.31 103.19 581.37 103.33 581.43 103.42 581.5 103.46 581.56 103.43 581.62 103.34 581.69 103.2 581.75 103.01 581.81 102.77 581.88 102.49 581.94 102.18 582 101.84 582.07 101.5 582.13 101.16 582.19 100.82 582.26 100.49 582.32 100.19 582.38 99.92 582.45 99.68 582.51 99.47 582.57 99.29 582.64 99.15 582.7 99.03 582.76 98.94 582.83 98.87 582.89 98.82 582.95 98.77 583.02 98.72 583.08 98.67 583.14 98.61 583.21 98.55 583.27 98.47 583.33 98.39 583.39 98.29 583.46 98.19 583.52 98.09 583.58 97.99 583.65 97.91 583.71 97.84 583.77 97.8 583.84 97.79 583.9 97.82 583.96 97.89 584.03 98.01 584.09 98.17 584.15 98.39 584.22 98.66 584.28 98.97 584.34 99.32 584.41 99.7 584.47 100.1 584.53 100.53 584.6 100.96 584.66 101.38 584.72 101.79 584.79 102.18 584.85 102.54 584.91 102.86 584.98 103.13 585.04 103.36 585.1 103.53 585.17 103.66 585.23 103.74 585.29 103.77 585.36 103.75 585.42 103.7 585.48 103.62 585.55 103.52 585.61 103.39 585.67 103.26 585.74 103.11 585.8 102.96 585.86 102.81 585.93 102.66 585.99 102.51 586.05 102.37 586.12 102.22 586.18 102.06 586.24 101.9 586.3 101.73 586.37 101.54 586.43 101.32 586.49 101.08 586.56 100.82 586.62 100.52 586.68 100.2 586.75 99.85 586.81 99.47 586.87 99.07 586.94 98.65 587 98.23 587.06 97.81 587.13 97.4 587.19 97 587.25 96.64 587.32 96.31 587.38 96.03 587.44 95.8 587.51 95.63 587.57 95.53 587.63 95.5 587.7 95.54 587.76 95.64 587.82 95.81 587.89 96.05 587.95 96.34 588.01 96.68 588.08 97.06 588.14 97.48 588.2 97.92 588.27 98.39 588.33 98.86 588.39 99.33 588.46 99.8 588.52 100.27 588.58 100.72 588.65 101.16 588.71 101.58 588.77 101.98 588.84 102.36 588.9 102.73 588.96 103.09 589.03 103.43 589.09 103.76 589.15 104.08 589.21 104.38 589.28 104.67 589.34 104.95 589.4 105.21 589.47 105.45 589.53 105.66 589.59 105.84 589.66 105.98 589.72 106.07 589.78 106.11 589.85 106.1 589.91 106.02 589.97 105.88 590.04 105.66 590.1 105.37 590.16 105 590.23 104.56 590.29 104.05 590.35 103.48 590.42 102.85 590.48 102.17 590.54 101.45 590.61 100.7 590.67 99.93 590.73 99.16 590.8 98.39 590.86 97.65 590.92 96.93 590.99 96.25 591.05 95.62 591.11 95.05 591.18 94.54 591.24 94.1 591.3 93.73 591.37 93.43 591.43 93.21 591.49 93.06 591.56 92.98 591.62 92.96 591.68 93.02 591.75 93.14 591.81 93.31 591.87 93.55 591.94 93.83 592 94.17 592.06 94.56 592.12 95 592.19 95.49 592.25 96.02 592.31 96.6 592.38 97.22 592.44 97.88 592.5 98.59 592.57 99.33 592.63 100.11 592.69 100.92 592.76 101.75 592.82 102.6 592.88 103.46 592.95 104.31 593.01 105.16 593.07 105.98 593.14 106.77 593.2 107.51 593.26 108.2 593.33 108.81 593.39 109.34 593.45 109.78 593.52 110.12 593.58 110.35 593.64 110.47 593.71 110.47 593.77 110.35 593.83 110.12 593.9 109.77 593.96 109.31 594.02 108.74 594.09 108.08 594.15 107.33 594.21 106.5 594.28 105.61 594.34 104.66 594.4 103.66 594.47 102.64 594.53 101.59 594.59 100.53 594.66 99.48 594.72 98.43 594.78 97.4 594.84 96.39 594.91 95.42 594.97 94.5 595.03 93.61 595.1 92.79 595.16 92.02 595.22 91.32 595.29 90.68 595.35 90.13 595.41 89.65 595.48 89.26 595.54 88.97 595.6 88.78 595.67 88.68 595.73 88.7 595.79 88.83 595.86 89.08 595.92 89.44 595.98 89.92 596.05 90.53 596.11 91.25 596.17 92.08 596.24 93.01 596.3 94.05 596.36 95.18 596.43 96.39 596.49 97.66 596.55 98.99 596.62 100.35 596.68 101.74 596.74 103.12 596.81 104.5 596.87 105.84 596.93 107.14 597 108.38 597.06 109.53 597.12 110.6 597.19 111.56 597.25 112.41 597.31 113.13 597.38 113.72 597.44 114.18 597.5 114.5 597.57 114.67 597.63 114.7 597.69 114.6 597.75 114.35 597.82 113.97 597.88 113.45 597.94 112.81 598.01 112.05 598.07 111.18 598.13 110.21 598.2 109.13 598.26 107.97 598.32 106.72 598.39 105.41 598.45 104.03 598.51 102.6 598.58 101.13 598.64 99.64 598.7 98.13 598.77 96.62 598.83 95.12 598.89 93.65 598.96 92.22 599.02 90.85 599.08 89.55 599.15 88.34 599.21 87.23 599.27 86.24 599.34 85.37 599.4 84.66 599.46 84.09 599.53 83.69 599.59 83.46 599.65 83.41 599.72 83.54 599.78 83.84 599.84 84.33 599.91 84.99 599.97 85.82 600.03 86.8 600.1 87.94 600.16 89.22 600.22 90.62 600.29 92.13 600.35 93.74 600.41 95.41 600.48 97.15 600.54 98.93 600.6 100.72 600.66 102.52 600.73 104.3 600.79 106.06 600.85 107.76 600.92 109.4 600.98 110.96 601.04 112.42 601.11 113.78 601.17 115.01 601.23 116.12 601.3 117.08 601.36 117.9 601.42 118.55 601.49 119.03 601.55 119.35 601.61 119.48 601.68 119.44 601.74 119.21 601.8 118.79 601.87 118.2 601.93 117.42 601.99 116.47 602.06 115.35 602.12 114.06 602.18 112.62 602.25 111.05 602.31 109.35 602.37 107.54 602.44 105.63 602.5 103.65 602.56 101.62 602.63 99.55 602.69 97.47 602.75 95.4 602.82 93.37 602.88 91.39 602.94 89.48 603.01 87.68 603.07 85.99 603.13 84.44 603.2 83.04 603.26 81.82 603.32 80.77 603.38 79.92 603.45 79.27 603.51 78.83 603.57 78.61 603.64 78.6 603.7 78.81 603.76 79.23 603.83 79.86 603.89 80.7 603.95 81.74 604.02 82.96 604.08 84.36 604.14 85.92 604.21 87.62 604.27 89.46 604.33 91.42 604.4 93.48 604.46 95.61 604.52 97.81 604.59 100.05 604.65 102.31 604.71 104.56 604.78 106.8 604.84 108.99 604.9 111.12 604.97 113.16 605.03 115.09 605.09 116.89 605.16 118.55 605.22 120.05 605.28 121.36 605.35 122.47 605.41 123.38 605.47 124.06 605.54 124.51 605.6 124.72 605.66 124.69 605.73 124.41 605.79 123.89 605.85 123.13 605.92 122.13 605.98 120.91 606.04 119.47 606.11 117.83 606.17 116.01 606.23 114.01 606.29 111.88 606.36 109.61 606.42 107.24 606.48 104.79 606.55 102.29 606.61 99.76 606.67 97.22 606.74 94.71 606.8 92.24 606.86 89.84 606.93 87.53 606.99 85.34 607.05 83.29 607.12 81.4 607.18 79.69 607.24 78.17 607.31 76.86 607.37 75.77 607.43 74.92 607.5 74.31 607.56 73.96 607.62 73.86 607.69 74.02 607.75 74.43 607.81 75.11 607.88 76.03 607.94 77.2 608 78.61 608.07 80.24 608.13 82.08 608.19 84.11 608.26 86.31 608.32 88.67 608.38 91.16 608.45 93.76 608.51 96.44 608.57 99.17 608.64 101.94 608.7 104.7 608.76 107.44 608.83 110.12 608.89 112.71 608.95 115.2 609.02 117.56 609.08 119.75 609.14 121.76 609.2 123.56 609.27 125.15 609.33 126.49 609.39 127.57 609.46 128.39 609.52 128.94 609.58 129.2 609.65 129.18 609.71 128.87 609.77 128.28 609.84 127.41 609.9 126.27 609.96 124.87 610.03 123.23 610.09 121.35 610.15 119.26 610.22 116.98 610.28 114.53 610.34 111.92 610.41 109.2 610.47 106.37 610.53 103.48 610.6 100.55 610.66 97.6 610.72 94.67 610.79 91.78 610.85 88.97 610.91 86.25 610.98 83.67 611.04 81.24 611.1 78.98 611.17 76.93 611.23 75.11 611.29 73.52 611.36 72.2 611.42 71.15 611.48 70.38 611.55 69.91 611.61 69.74 611.67 69.88 611.74 70.31 611.8 71.05 611.86 72.08 611.93 73.4 611.99 74.99 612.05 76.84 612.11 78.93 612.18 81.24 612.24 83.74 612.3 86.42 612.37 89.25 612.43 92.19 612.49 95.22 612.56 98.32 612.62 101.44 612.68 104.56 612.75 107.65 612.81 110.67 612.87 113.6 612.94 116.4 613 119.05 613.06 121.53 613.13 123.8 613.19 125.85 613.25 127.65 613.32 129.18 613.38 130.44 613.44 131.4 613.51 132.06 613.57 132.4 613.63 132.43 613.7 132.15 613.76 131.55 613.82 130.64 613.89 129.43 613.95 127.93 614.01 126.16 614.08 124.13 614.14 121.85 614.2 119.36 614.27 116.68 614.33 113.83 614.39 110.84 614.46 107.75 614.52 104.57 614.58 101.34 614.65 98.1 614.71 94.88 614.77 91.7 614.83 88.61 614.9 85.63 614.96 82.79 615.02 80.11 615.09 77.64 615.15 75.38 615.21 73.37 615.28 71.63 615.34 70.17 615.4 69 615.47 68.15 615.53 67.61 615.59 67.39 615.66 67.51 615.72 67.94 615.78 68.7 615.85 69.78 615.91 71.15 615.97 72.82 616.04 74.76 616.1 76.96 616.16 79.39 616.23 82.03 616.29 84.86 616.35 87.84 616.42 90.95 616.48 94.15 616.54 97.42 616.61 100.72 616.67 104.02 616.73 107.29 616.8 110.49 616.86 113.59 616.92 116.57 616.99 119.38 617.05 122.01 617.11 124.43 617.18 126.61 617.24 128.54 617.3 130.18 617.37 131.53 617.43 132.58 617.49 133.31 617.56 133.71 617.62 133.78 617.68 133.52 617.74 132.94 617.81 132.03 617.87 130.81 617.93 129.29 618 127.49 618.06 125.42 618.12 123.1 618.19 120.55 618.25 117.81 618.31 114.89 618.38 111.84 618.44 108.67 618.5 105.42 618.57 102.12 618.63 98.8 618.69 95.5 618.76 92.25 618.82 89.09 618.88 86.03 618.95 83.12 619.01 80.38 619.07 77.84 619.14 75.53 619.2 73.46 619.26 71.66 619.33 70.14 619.39 68.93 619.45 68.03 619.52 67.44 619.58 67.19 619.64 67.26 619.71 67.66 619.77 68.38 619.83 69.41 619.9 70.76 619.96 72.39 620.02 74.3 620.09 76.46 620.15 78.86 620.21 81.47 620.28 84.26 620.34 87.21 620.4 90.28 620.47 93.45 620.53 96.69 620.59 99.96 620.65 103.22 620.72 106.46 620.78 109.63 620.84 112.71 620.91 115.66 620.97 118.45 621.03 121.07 621.1 123.47 621.16 125.65 621.22 127.57 621.29 129.22 621.35 130.58 621.41 131.64 621.48 132.39 621.54 132.82 621.6 132.93 621.67 132.72 621.73 132.19 621.79 131.35 621.86 130.2 621.92 128.76 621.98 127.05 622.05 125.07 622.11 122.85 622.17 120.42 622.24 117.8 622.3 115.01 622.36 112.08 622.43 109.04 622.49 105.93 622.55 102.77 622.62 99.59 622.68 96.43 622.74 93.32 622.81 90.29 622.87 87.36 622.93 84.57 623 81.94 623.06 79.5 623.12 77.28 623.19 75.29 623.25 73.55 623.31 72.07 623.37 70.89 623.44 69.99 623.5 69.4 623.56 69.11 623.63 69.14 623.69 69.47 623.75 70.1 623.82 71.04 623.88 72.26 623.94 73.75 624.01 75.51 624.07 77.5 624.13 79.72 624.2 82.14 624.26 84.72 624.32 87.46 624.39 90.32 624.45 93.27 624.51 96.28 624.58 99.32 624.64 102.36 624.7 105.37 624.77 108.32 624.83 111.18 624.89 113.92 624.96 116.52 625.02 118.95 625.08 121.18 625.15 123.2 625.21 124.98 625.27 126.52 625.34 127.79 625.4 128.78 625.46 129.49 625.53 129.9 625.59 130.03 625.65 129.86 625.72 129.41 625.78 128.67 625.84 127.65 625.91 126.38 625.97 124.85 626.03 123.1 626.1 121.12 626.16 118.96 626.22 116.62 626.28 114.13 626.35 111.51 626.41 108.8 626.47 106.02 626.54 103.19 626.6 100.35 626.66 97.51 626.73 94.72 626.79 91.99 626.85 89.36 626.92 86.84 626.98 84.47 627.04 82.26 627.11 80.25 627.17 78.44 627.23 76.85 627.3 75.51 627.36 74.42 627.42 73.6 627.49 73.04 627.55 72.76 627.61 72.76 627.68 73.04 627.74 73.58 627.8 74.4 627.87 75.46 627.93 76.77 627.99 78.31 628.06 80.06 628.12 82 628.18 84.11 628.25 86.36 628.31 88.74 628.37 91.22 628.44 93.78 628.5 96.38 628.56 99 628.63 101.62 628.69 104.21 628.75 106.74 628.82 109.19 628.88 111.54 628.94 113.77 629.01 115.85 629.07 117.76 629.13 119.5 629.19 121.04 629.26 122.37 629.32 123.48 629.38 124.36 629.45 125 629.51 125.4 629.57 125.56 629.64 125.47 629.7 125.13 629.76 124.55 629.83 123.74 629.89 122.7 629.95 121.45 630.02 120 630.08 118.36 630.14 116.54 630.21 114.58 630.27 112.48 630.33 110.28 630.4 107.98 630.46 105.63 630.52 103.23 630.59 100.82 630.65 98.42 630.71 96.06 630.78 93.76 630.84 91.54 630.9 89.42 630.97 87.44 631.03 85.6 631.09 83.93 631.16 82.43 631.22 81.13 631.28 80.04 631.35 79.15 631.41 78.49 631.47 78.05 631.54 77.83 631.6 77.84 631.66 78.07 631.73 78.51 631.79 79.16 631.85 80.01 631.92 81.05 631.98 82.27 632.04 83.65 632.1 85.17 632.17 86.83 632.23 88.61 632.29 90.48 632.36 92.43 632.42 94.45 632.48 96.51 632.55 98.6 632.61 100.69 632.67 102.76 632.74 104.8 632.8 106.79 632.86 108.71 632.93 110.53 632.99 112.25 633.05 113.85 633.12 115.3 633.18 116.6 633.24 117.73 633.31 118.68 633.37 119.45 633.43 120.01 633.5 120.38 633.56 120.53 633.62 120.49 633.69 120.23 633.75 119.78 633.81 119.13 633.88 118.3 633.94 117.29 634 116.12 634.07 114.8 634.13 113.35 634.19 111.79 634.26 110.13 634.32 108.39 634.38 106.6 634.45 104.76 634.51 102.91 634.57 101.06 634.64 99.23 634.7 97.43 634.76 95.69 634.82 94.01 634.89 92.42 634.95 90.92 635.01 89.53 635.08 88.26 635.14 87.12 635.2 86.11 635.27 85.25 635.33 84.54 635.39 83.97 635.46 83.57 635.52 83.32 635.58 83.24 635.65 83.31 635.71 83.55 635.77 83.94 635.84 84.49 635.9 85.18 635.96 86.03 636.03 87 636.09 88.11 636.15 89.33 636.22 90.66 636.28 92.08 636.34 93.58 636.41 95.15 636.47 96.75 636.53 98.39 636.6 100.04 636.66 101.68 636.72 103.3 636.79 104.87 636.85 106.38 636.91 107.81 636.98 109.15 637.04 110.38 637.1 111.49 637.17 112.47 637.23 113.32 637.29 114.01 637.36 114.56 637.42 114.95 637.48 115.2 637.55 115.28 637.61 115.22 637.67 115.02 637.73 114.68 637.8 114.21 637.86 113.61 637.92 112.9 637.99 112.09 638.05 111.19 638.11 110.19 638.18 109.13 638.24 108 638.3 106.82 638.37 105.59 638.43 104.33 638.49 103.04 638.56 101.74 638.62 100.44 638.68 99.14 638.75 97.86 638.81 96.61 638.87 95.39 638.94 94.22 639 93.11 639.06 92.07 639.13 91.11 639.19 90.25 639.25 89.48 639.32 88.83 639.38 88.3 639.44 87.89 639.51 87.61 639.57 87.47 639.63 87.47 639.7 87.61 639.76 87.89 639.82 88.3 639.89 88.83 639.95 89.49 640.01 90.26 640.08 91.13 640.14 92.09 640.2 93.12 640.27 94.21 640.33 95.35 640.39 96.52 640.46 97.71 640.52 98.9 640.58 100.08 640.64 101.23 640.71 102.35 640.77 103.42 640.83 104.44 640.9 105.4 640.96 106.28 641.02 107.1 641.09 107.84 641.15 108.5 641.21 109.07 641.28 109.57 641.34 109.97 641.4 110.3 641.47 110.53 641.53 110.68 641.59 110.74 641.66 110.72 641.72 110.6 641.78 110.4 641.85 110.11 641.91 109.74 641.97 109.27 642.04 108.72 642.1 108.09 642.16 107.38 642.23 106.6 642.29 105.75 642.35 104.84 642.42 103.88 642.48 102.88 642.54 101.86 642.61 100.81 642.67 99.76 642.73 98.72 642.8 97.71 642.86 96.73 642.92 95.8 642.99 94.94 643.05 94.15 643.11 93.45 643.18 92.83 643.24 92.32 643.3 91.91 643.36 91.61 643.43 91.41 643.49 91.32 643.55 91.34 643.62 91.45 643.68 91.65 643.74 91.93 643.81 92.3 643.87 92.73 643.93 93.22 644 93.76 644.06 94.34 644.12 94.96 644.19 95.61 644.25 96.28 644.31 96.97 644.38 97.67 644.44 98.38 644.5 99.09 644.57 99.81 644.63 100.52 644.69 101.23 644.76 101.93 644.82 102.63 644.88 103.3 644.95 103.96 645.01 104.59 645.07 105.2 645.14 105.76 645.2 106.28 645.26 106.75 645.33 107.16 645.39 107.5 645.45 107.76 645.52 107.95 645.58 108.05 645.64 108.05 645.71 107.97 645.77 107.79 645.83 107.53 645.9 107.17 645.96 106.73 646.02 106.21 646.09 105.62 646.15 104.98 646.21 104.29 646.27 103.56 646.34 102.81 646.4 102.05 646.46 101.29 646.53 100.55 646.59 99.83 646.65 99.15 646.72 98.51 646.78 97.92 646.84 97.38 646.91 96.91 646.97 96.49 647.03 96.13 647.1 95.82 647.16 95.58 647.22 95.38 647.29 95.24 647.35 95.13 647.41 95.07 647.48 95.05 647.54 95.07 647.6 95.11 647.67 95.19 647.73 95.3 647.79 95.44 647.86 95.61 647.92 95.81 647.98 96.06 648.05 96.34 648.11 96.66 648.17 97.02 648.24 97.42 648.3 97.86 648.36 98.34 648.43 98.85 648.49 99.39 648.55 99.96 648.62 100.54 648.68 101.14 648.74 101.73 648.81 102.3 648.87 102.86 648.93 103.38 649 103.86 649.06 104.29 649.12 104.65 649.18 104.95 649.25 105.17 649.31 105.32 649.37 105.39 649.44 105.38 649.5 105.3 649.56 105.15 649.63 104.94 649.69 104.67 649.75 104.36 649.82 104.02 649.88 103.64 649.94 103.25 650.01 102.86 650.07 102.46 650.13 102.08 650.2 101.7 650.26 101.35 650.32 101.02 650.39 100.7 650.45 100.42 650.51 100.15 650.58 99.9 650.64 99.67 650.7 99.45 650.77 99.24 650.83 99.03 650.89 98.83 650.96 98.63 651.02 98.42 651.08 98.22 651.15 98.02 651.21 97.82 651.27 97.64 651.34 97.46 651.4 97.31 651.46 97.19 651.53 97.09 651.59 97.04 651.65 97.03 651.72 97.06 651.78 97.15 651.84 97.29 651.91 97.49 651.97 97.74 652.03 98.03 652.09 98.37 652.16 98.74 652.22 99.14 652.28 99.55 652.35 99.97 652.41 100.39 652.47 100.79 652.54 101.17 652.6 101.52 652.66 101.82 652.73 102.08 652.79 102.29 652.85 102.44 652.92 102.55 652.98 102.6 653.04 102.6 653.11 102.57 653.17 102.49 653.23 102.4 653.3 102.28 653.36 102.15 653.42 102.01 653.49 101.88 653.55 101.76 653.61 101.66 653.68 101.57 653.74 101.5 653.8 101.45 653.87 101.41 653.93 101.39 653.99 101.38 654.06 101.38 654.12 101.37 654.18 101.35 654.25 101.32 654.31 101.26 654.37 101.19 654.44 101.08 654.5 100.95 654.56 100.79 654.63 100.61 654.69 100.4 654.75 100.17 654.81 99.93 654.88 99.68 654.94 99.44 655 99.22 655.07 99.01 655.13 98.83 655.19 98.69 655.26 98.59 655.32 98.53 655.38 98.53 655.45 98.57 655.51 98.65 655.57 98.78 655.64 98.94 655.7 99.13 655.76 99.34 655.83 99.57 655.89 99.8 655.95 100.02 656.02 100.22 656.08 100.4 656.14 100.55 656.21 100.67 656.27 100.75 656.33 100.79 656.4 100.79 656.46 100.76 656.52 100.7 656.59 100.62 656.65 100.52 656.71 100.41 656.78 100.3 656.84 100.21 656.9 100.13 656.97 100.07 657.03 100.04 657.09 100.05 657.16 100.09 657.22 100.17 657.28 100.27 657.35 100.41 657.41 100.57 657.47 100.74 657.54 100.92 657.6 101.1 657.66 101.28 657.72 101.43 657.79 101.56 657.85 101.65 657.91 101.71 657.98 101.72 658.04 101.7 658.1 101.63 658.17 101.53 658.23 101.39 658.29 101.23 658.36 101.04 658.42 100.85 658.48 100.65 658.55 100.46 658.61 100.29 658.67 100.14 658.74 100.02 658.8 99.93 658.86 99.88 658.93 99.86 658.99 99.89 659.05 99.94 659.12 100.02 659.18 100.13 659.24 100.24 659.31 100.36 659.37 100.48 659.43 100.59 659.5 100.67 659.56 100.72 659.62 100.74 659.69 100.73 659.75 100.68 659.81 100.58 659.88 100.46 659.94 100.3 660 100.12 660.07 99.92 660.13 99.72 660.19 99.51 660.26 99.33 660.32 99.16 660.38 99.02 660.45 98.93 660.51 98.87 660.57 98.87 660.63 98.91 660.7 99.01 660.76 99.15 660.82 99.33 660.89 99.55 660.95 99.79 661.01 100.05 661.08 100.31 661.14 100.57 661.2 100.82 661.27 101.04 661.33 101.23 661.39 101.38 661.46 101.49 661.52 101.56 661.58 101.59 661.65 101.57 661.71 101.51 661.77 101.43 661.84 101.31 661.9 101.19" fill="none" stroke="#5690d2" stroke-width="0.9" clip-path="url(#clb)"/>
<rect x="573.4" y="67.5" width="88.5" height="65.9" fill="none" stroke="#707070" stroke-width="0.8"/>
<line x1="577.42" y1="133.4" x2="577.42" y2="131.9" class="ai"/>
<line x1="577.42" y1="67.5" x2="577.42" y2="69" class="ai"/>
<text x="577.42" y="142.6" class="it" text-anchor="middle">-100</text>
<line x1="617.65" y1="133.4" x2="617.65" y2="131.9" class="ai"/>
<line x1="617.65" y1="67.5" x2="617.65" y2="69" class="ai"/>
<text x="617.65" y="142.6" class="it" text-anchor="middle">0</text>
<line x1="657.88" y1="133.4" x2="657.88" y2="131.9" class="ai"/>
<line x1="657.88" y1="67.5" x2="657.88" y2="69" class="ai"/>
<text x="657.88" y="142.6" class="it" text-anchor="middle">100</text>
<line x1="573.4" y1="126.6" x2="574.9" y2="126.6" class="ai"/>
<line x1="661.9" y1="126.6" x2="660.4" y2="126.6" class="ai"/>
<text x="571.4" y="129.2" class="it" text-anchor="end">-0.2</text>
<line x1="573.4" y1="100.4" x2="574.9" y2="100.4" class="ai"/>
<line x1="661.9" y1="100.4" x2="660.4" y2="100.4" class="ai"/>
<text x="571.4" y="103" class="it" text-anchor="end">0</text>
<line x1="573.4" y1="74.2" x2="574.9" y2="74.2" class="ai"/>
<line x1="661.9" y1="74.2" x2="660.4" y2="74.2" class="ai"/>
<text x="571.4" y="76.8" class="it" text-anchor="end">0.2</text>
<text x="617.65" y="152" class="il" text-anchor="middle">Time [ns]</text>
<text transform="translate(555.7 100.85) rotate(-90)" class="il" text-anchor="middle">Voltage [V]</text>
<rect x="144.2" y="361.2" width="88.4" height="66.1" fill="#fff"/>
<clipPath id="clc"><rect x="144.2" y="361.2" width="88.4" height="66.1"/></clipPath>
<path d="M144.2 394.48 144.26 394.87 144.33 395.27 144.39 395.67 144.45 396.07 144.52 396.46 144.58 396.85 144.64 397.22 144.71 397.57 144.77 397.9 144.83 398.21 144.9 398.49 144.96 398.74 145.02 398.96 145.08 399.14 145.15 399.29 145.21 399.39 145.27 399.46 145.34 399.49 145.4 399.48 145.46 399.42 145.53 399.33 145.59 399.2 145.65 399.03 145.72 398.83 145.78 398.59 145.84 398.33 145.91 398.03 145.97 397.71 146.03 397.36 146.1 397 146.16 396.62 146.22 396.23 146.29 395.83 146.35 395.43 146.41 395.03 146.47 394.64 146.54 394.25 146.6 393.88 146.66 393.52 146.73 393.18 146.79 392.87 146.85 392.58 146.92 392.32 146.98 392.09 147.04 391.9 147.11 391.75 147.17 391.63 147.23 391.55 147.3 391.51 147.36 391.52 147.42 391.56 147.49 391.64 147.55 391.76 147.61 391.92 147.68 392.11 147.74 392.34 147.8 392.6 147.86 392.89 147.93 393.21 147.99 393.55 148.05 393.91 148.12 394.28 148.18 394.67 148.24 395.07 148.31 395.47 148.37 395.87 148.43 396.26 148.5 396.65 148.56 397.03 148.62 397.39 148.69 397.74 148.75 398.06 148.81 398.35 148.88 398.62 148.94 398.85 149 399.05 149.07 399.22 149.13 399.34 149.19 399.43 149.26 399.48 149.32 399.49 149.38 399.46 149.44 399.38 149.51 399.27 149.57 399.13 149.63 398.94 149.7 398.72 149.76 398.47 149.82 398.18 149.89 397.87 149.95 397.54 150.01 397.19 150.08 396.81 150.14 396.43 150.2 396.04 150.27 395.64 150.33 395.24 150.39 394.84 150.46 394.45 150.52 394.06 150.58 393.7 150.65 393.35 150.71 393.02 150.77 392.72 150.83 392.45 150.9 392.21 150.96 392 151.02 391.82 151.09 391.69 151.15 391.59 151.21 391.53 151.28 391.51 151.34 391.53 151.4 391.59 151.47 391.69 151.53 391.83 151.59 392.01 151.66 392.22 151.72 392.47 151.78 392.74 151.85 393.04 151.91 393.37 151.97 393.72 152.04 394.09 152.1 394.47 152.16 394.86 152.22 395.26 152.29 395.66 152.35 396.06 152.41 396.45 152.48 396.84 152.54 397.21 152.6 397.56 152.67 397.89 152.73 398.2 152.79 398.48 152.86 398.73 152.92 398.95 152.98 399.14 153.05 399.28 153.11 399.39 153.17 399.46 153.24 399.49 153.3 399.48 153.36 399.43 153.43 399.34 153.49 399.21 153.55 399.04 153.62 398.84 153.68 398.6 153.74 398.33 153.8 398.04 153.87 397.71 153.93 397.36 153.99 397 154.06 396.62 154.12 396.23 154.18 395.84 154.25 395.44 154.31 395.05 154.37 394.66 154.44 394.28 154.5 393.92 154.56 393.58 154.63 393.25 154.69 392.95 154.75 392.68 154.82 392.43 154.88 392.22 154.94 392.04 155.01 391.9 155.07 391.8 155.13 391.73 155.19 391.7 155.26 391.71 155.32 391.76 155.38 391.84 155.45 391.96 155.51 392.12 155.57 392.31 155.64 392.53 155.7 392.78 155.76 393.06 155.83 393.36 155.89 393.68 155.95 394.01 156.02 394.36 156.08 394.72 156.14 395.09 156.21 395.46 156.27 395.83 156.33 396.19 156.4 396.54 156.46 396.89 156.52 397.21 156.58 397.52 156.65 397.81 156.71 398.07 156.77 398.3 156.84 398.51 156.9 398.68 156.96 398.82 157.03 398.93 157.09 399 157.15 399.03 157.22 399.03 157.28 399 157.34 398.93 157.41 398.82 157.47 398.69 157.53 398.52 157.6 398.32 157.66 398.09 157.72 397.84 157.79 397.57 157.85 397.27 157.91 396.96 157.97 396.64 158.04 396.31 158.1 395.97 158.16 395.62 158.23 395.28 158.29 394.94 158.35 394.61 158.42 394.29 158.48 393.99 158.54 393.7 158.61 393.43 158.67 393.18 158.73 392.96 158.8 392.76 158.86 392.57 158.92 392.41 158.99 392.28 159.05 392.19 159.11 392.12 159.18 392.09 159.24 392.1 159.3 392.13 159.37 392.21 159.43 392.31 159.49 392.45 159.55 392.63 159.62 392.83 159.68 393.06 159.74 393.32 159.81 393.6 159.87 393.9 159.93 394.23 160 394.57 160.06 394.92 160.12 395.27 160.19 395.64 160.25 396 160.31 396.37 160.38 396.72 160.44 397.07 160.5 397.41 160.57 397.72 160.63 398.02 160.69 398.29 160.76 398.54 160.82 398.76 160.88 398.95 160.94 399.1 161.01 399.22 161.07 399.3 161.13 399.34 161.2 399.35 161.26 399.31 161.32 399.24 161.39 399.12 161.45 398.97 161.51 398.79 161.58 398.57 161.64 398.31 161.7 398.03 161.77 397.72 161.83 397.39 161.89 397.05 161.96 396.68 162.02 396.29 162.08 395.88 162.15 395.45 162.21 395 162.27 394.55 162.33 394.1 162.4 393.65 162.46 393.21 162.52 392.78 162.59 392.36 162.65 391.97 162.71 391.61 162.78 391.28 162.84 390.98 162.9 390.72 162.97 390.51 163.03 390.34 163.09 390.23 163.16 390.16 163.22 390.16 163.28 390.2 163.35 390.31 163.41 390.47 163.47 390.68 163.54 390.96 163.6 391.28 163.66 391.66 163.73 392.08 163.79 392.55 163.85 393.06 163.91 393.61 163.98 394.19 164.04 394.79 164.1 395.42 164.17 396.05 164.23 396.7 164.29 397.34 164.36 397.98 164.42 398.6 164.48 399.21 164.55 399.79 164.61 400.33 164.67 400.83 164.74 401.29 164.8 401.7 164.86 402.05 164.93 402.34 164.99 402.56 165.05 402.71 165.12 402.79 165.18 402.8 165.24 402.74 165.3 402.59 165.37 402.37 165.43 402.08 165.49 401.71 165.56 401.28 165.62 400.77 165.68 400.21 165.75 399.59 165.81 398.91 165.87 398.16 165.94 397.39 166 396.61 166.06 395.81 166.13 395.01 166.19 394.22 166.25 393.44 166.32 392.68 166.38 391.96 166.44 391.27 166.51 390.62 166.57 390.03 166.63 389.49 166.69 389.01 166.76 388.6 166.82 388.26 166.88 387.99 166.95 387.8 167.01 387.69 167.07 387.66 167.14 387.7 167.2 387.82 167.26 388.03 167.33 388.3 167.39 388.65 167.45 389.07 167.52 389.55 167.58 390.09 167.64 390.68 167.71 391.32 167.77 392 167.83 392.72 167.9 393.46 167.96 394.23 168.02 395 168.09 395.78 168.15 396.55 168.21 397.31 168.27 398.05 168.34 398.76 168.4 399.41 168.46 400.02 168.53 400.57 168.59 401.06 168.65 401.48 168.72 401.85 168.78 402.14 168.84 402.36 168.91 402.5 168.97 402.58 169.03 402.58 169.1 402.51 169.16 402.37 169.22 402.16 169.29 401.89 169.35 401.55 169.41 401.16 169.48 400.72 169.54 400.24 169.6 399.71 169.66 399.15 169.73 398.56 169.79 397.95 169.85 397.33 169.92 396.7 169.98 396.06 170.04 395.44 170.11 394.82 170.17 394.22 170.23 393.65 170.3 393.1 170.36 392.6 170.42 392.13 170.49 391.71 170.55 391.34 170.61 391.02 170.68 390.75 170.74 390.54 170.8 390.39 170.87 390.29 170.93 390.25 170.99 390.26 171.05 390.32 171.12 390.44 171.18 390.61 171.24 390.82 171.31 391.08 171.37 391.37 171.43 391.7 171.5 392.06 171.56 392.44 171.62 392.85 171.69 393.27 171.75 393.7 171.81 394.14 171.88 394.57 171.94 395.01 172 395.44 172.07 395.85 172.13 396.24 172.19 396.62 172.26 396.97 172.32 397.3 172.38 397.59 172.45 397.85 172.51 398.08 172.57 398.27 172.63 398.43 172.7 398.54 172.76 398.63 172.82 398.7 172.89 398.79 172.95 398.85 173.01 398.87 173.08 398.86 173.14 398.82 173.2 398.74 173.27 398.62 173.33 398.48 173.39 398.3 173.46 398.1 173.52 397.86 173.58 397.6 173.65 397.32 173.71 397.01 173.77 396.69 173.84 396.35 173.9 396 173.96 395.65 174.02 395.29 174.09 394.93 174.15 394.57 174.21 394.22 174.28 393.87 174.34 393.55 174.4 393.24 174.47 392.95 174.53 392.68 174.59 392.44 174.66 392.23 174.72 392.05 174.78 391.91 174.85 391.8 174.91 391.73 174.97 391.69 175.04 391.7 175.1 391.74 175.16 391.82 175.23 391.94 175.29 392.1 175.35 392.29 175.41 392.51 175.48 392.77 175.54 393.06 175.6 393.37 175.67 393.71 175.73 394.07 175.79 394.44 175.86 394.81 175.92 395.21 175.98 395.65 176.05 396.11 176.11 396.59 176.17 397.08 176.24 397.59 176.3 398.1 176.36 398.61 176.43 399.11 176.49 399.6 176.55 400.06 176.62 400.5 176.68 400.89 176.74 401.25 176.81 401.55 176.87 401.8 176.93 402 176.99 402.12 177.06 402.18 177.12 402.16 177.18 402.07 177.25 401.91 177.31 401.68 177.37 401.43 177.44 401.09 177.5 400.67 177.56 400.15 177.63 399.55 177.69 398.87 177.75 398.11 177.82 397.28 177.88 396.38 177.94 395.42 178.01 394.42 178.07 393.39 178.13 392.33 178.2 391.25 178.26 390.18 178.32 389.11 178.38 388.08 178.45 387.08 178.51 386.13 178.57 385.25 178.64 384.45 178.7 383.74 178.76 383.13 178.83 382.63 178.89 382.26 178.95 382.06 179.02 382.02 179.08 382.11 179.14 382.35 179.21 382.74 179.27 383.26 179.33 383.93 179.4 384.74 179.46 385.68 179.52 386.75 179.59 387.93 179.65 389.22 179.71 390.61 179.77 392.08 179.84 393.62 179.9 395.21 179.96 396.84 180.03 398.5 180.09 400.15 180.15 401.8 180.22 403.41 180.28 404.98 180.34 406.48 180.41 407.9 180.47 409.21 180.53 410.41 180.6 411.48 180.66 412.41 180.72 413.18 180.79 413.77 180.85 414.18 180.91 414.4 180.98 414.43 181.04 414.26 181.1 413.89 181.16 413.33 181.23 412.58 181.29 411.64 181.35 410.51 181.42 409.22 181.48 407.76 181.54 406.15 181.61 404.41 181.67 402.55 181.73 400.58 181.8 398.54 181.86 396.43 181.92 394.28 181.99 392.11 182.05 389.94 182.11 387.8 182.18 385.71 182.24 383.68 182.3 381.75 182.37 379.93 182.43 378.25 182.49 376.72 182.56 375.36 182.62 374.18 182.68 373.21 182.74 372.46 182.81 371.93 182.87 371.63 182.93 371.59 183 371.79 183.06 372.24 183.12 372.93 183.19 373.86 183.25 375.02 183.31 376.41 183.38 378.01 183.44 379.8 183.5 381.78 183.57 383.92 183.63 386.21 183.69 388.61 183.76 391.12 183.82 393.69 183.88 396.32 183.95 398.96 184.01 401.6 184.07 404.21 184.13 406.75 184.2 409.22 184.26 411.56 184.32 413.77 184.39 415.82 184.45 417.68 184.51 419.33 184.58 420.76 184.64 421.95 184.7 422.88 184.77 423.54 184.83 423.92 184.89 424.01 184.96 423.78 185.02 423.25 185.08 422.44 185.15 421.35 185.21 419.99 185.27 418.37 185.34 416.51 185.4 414.41 185.46 412.12 185.52 409.63 185.59 406.99 185.65 404.21 185.71 401.32 185.78 398.35 185.84 395.34 185.9 392.3 185.97 389.28 186.03 386.29 186.09 383.38 186.16 380.58 186.22 377.9 186.28 375.39 186.35 373.06 186.41 370.94 186.47 369.06 186.54 367.44 186.6 366.09 186.66 365.02 186.73 364.27 186.79 363.82 186.85 363.69 186.92 363.88 186.98 364.4 187.04 365.23 187.1 366.38 187.17 367.83 187.23 369.57 187.29 371.58 187.36 373.9 187.42 376.45 187.48 379.19 187.55 382.1 187.61 385.15 187.67 388.31 187.74 391.55 187.8 394.83 187.86 398.13 187.93 401.41 187.99 404.63 188.05 407.76 188.12 410.78 188.18 413.65 188.24 416.33 188.31 418.82 188.37 421.07 188.43 423.07 188.49 424.79 188.56 426.22 188.62 427.34 188.68 428.14 188.75 428.61 188.81 428.74 188.87 428.48 188.94 427.89 189 426.97 189.06 425.73 189.13 424.2 189.19 422.38 189.25 420.29 189.32 417.95 189.38 415.4 189.44 412.65 189.51 409.73 189.57 406.67 189.63 403.51 189.7 400.28 189.76 397.01 189.82 393.72 189.88 390.46 189.95 387.27 190.01 384.16 190.07 381.17 190.14 378.33 190.2 375.67 190.26 373.22 190.33 371 190.39 369.03 190.45 367.34 190.52 365.93 190.58 364.82 190.64 364.02 190.71 363.54 190.77 363.39 190.83 363.56 190.9 364.05 190.96 364.86 191.02 365.98 191.09 367.39 191.15 369.11 191.21 371.09 191.28 373.31 191.34 375.74 191.4 378.36 191.46 381.14 191.53 384.05 191.59 387.06 191.65 390.15 191.72 393.27 191.78 396.39 191.84 399.49 191.91 402.54 191.97 405.5 192.03 408.34 192.1 411.04 192.16 413.57 192.22 415.91 192.29 418.02 192.35 419.9 192.41 421.52 192.48 422.87 192.54 423.94 192.6 424.72 192.67 425.2 192.73 425.38 192.79 425.27 192.85 424.85 192.92 424.15 192.98 423.16 193.04 421.89 193.11 420.36 193.17 418.59 193.23 416.6 193.3 414.4 193.36 412.02 193.42 409.48 193.49 406.81 193.55 404.05 193.61 401.2 193.68 398.32 193.74 395.41 193.8 392.52 193.87 389.68 193.93 386.9 193.99 384.23 194.06 381.68 194.12 379.28 194.18 377.06 194.24 375.03 194.31 373.21 194.37 371.63 194.43 370.3 194.5 369.23 194.56 368.43 194.62 367.9 194.69 367.66 194.75 367.7 194.81 368.01 194.88 368.61 194.94 369.47 195 370.59 195.07 371.95 195.13 373.55 195.19 375.36 195.26 377.36 195.32 379.55 195.38 381.92 195.45 384.4 195.51 386.96 195.57 389.58 195.64 392.24 195.7 394.9 195.76 397.54 195.82 400.13 195.89 402.65 195.95 405.06 196.01 407.36 196.08 409.5 196.14 411.49 196.2 413.29 196.27 414.89 196.33 416.28 196.39 417.44 196.46 418.37 196.52 419.06 196.58 419.5 196.65 419.69 196.71 419.64 196.77 419.35 196.84 418.81 196.9 418.05 196.96 417.07 197.03 415.88 197.09 414.5 197.15 412.95 197.21 411.23 197.28 409.38 197.34 407.41 197.4 405.35 197.47 403.21 197.53 401.02 197.59 398.79 197.66 396.57 197.72 394.36 197.78 392.19 197.85 390.08 197.91 388.05 197.97 386.13 198.04 384.32 198.1 382.65 198.16 381.13 198.23 379.78 198.29 378.61 198.35 377.62 198.42 376.82 198.48 376.23 198.54 375.84 198.6 375.65 198.67 375.67 198.73 375.88 198.79 376.29 198.86 376.89 198.92 377.67 198.98 378.62 199.05 379.73 199.11 380.99 199.17 382.43 199.24 383.96 199.3 385.58 199.36 387.26 199.43 388.99 199.49 390.74 199.55 392.49 199.62 394.23 199.68 395.94 199.74 397.61 199.81 399.2 199.87 400.72 199.93 402.14 199.99 403.45 200.06 404.65 200.12 405.72 200.18 406.65 200.25 407.44 200.31 408.08 200.37 408.57 200.44 408.91 200.5 409.1 200.56 409.15 200.63 409.05 200.69 408.81 200.75 408.45 200.82 407.96 200.88 407.36 200.94 406.66 201.01 405.87 201.07 404.99 201.13 404.04 201.2 403.03 201.26 401.98 201.32 400.9 201.39 399.81 201.45 398.7 201.51 397.61 201.57 396.54 201.64 395.49 201.7 394.49 201.76 393.55 201.83 392.66 201.89 391.84 201.95 391.1 202.02 390.44 202.08 389.86 202.14 389.37 202.21 388.98 202.27 388.68 202.33 388.46 202.4 388.34 202.46 388.31 202.52 388.36 202.59 388.48 202.65 388.68 202.71 388.94 202.78 389.19 202.84 389.5 202.9 389.86 202.96 390.27 203.03 390.72 203.09 391.2 203.15 391.7 203.22 392.22 203.28 392.76 203.34 393.3 203.41 393.84 203.47 394.37 203.53 394.88 203.6 395.38 203.66 395.85 203.72 396.29 203.79 396.7 203.85 397.07 203.91 397.4 203.98 397.68 204.04 397.93 204.1 398.12 204.17 398.28 204.23 398.38 204.29 398.45 204.35 398.6 204.42 398.75 204.48 398.86 204.54 398.94 204.61 398.99 204.67 399 204.73 398.98 204.8 398.91 204.86 398.82 204.92 398.68 204.99 398.51 205.05 398.31 205.11 398.07 205.18 397.81 205.24 397.51 205.3 397.19 205.37 396.84 205.43 396.48 205.49 396.1 205.56 395.7 205.62 395.3 205.68 394.89 205.75 394.48 205.81 394.08 205.87 393.68 205.93 393.3 206 392.93 206.06 392.58 206.12 392.26 206.19 391.97 206.25 391.71 206.31 391.48 206.38 391.29 206.44 391.14 206.5 391.03 206.57 390.97 206.63 390.95 206.69 390.98 206.76 391.06 206.82 391.17 206.88 391.32 206.95 391.51 207.01 391.75 207.07 392.03 207.14 392.36 207.2 392.73 207.26 393.14 207.32 393.59 207.39 394.06 207.45 394.57 207.51 395.09 207.58 395.63 207.64 396.18 207.7 396.74 207.77 397.3 207.83 397.85 207.89 398.39 207.96 398.91 208.02 399.4 208.08 399.87 208.15 400.3 208.21 400.69 208.27 401.04 208.34 401.33 208.4 401.57 208.46 401.75 208.53 401.87 208.59 401.93 208.65 401.92 208.71 401.84 208.78 401.7 208.84 401.46 208.9 401.16 208.97 400.79 209.03 400.36 209.09 399.89 209.16 399.36 209.22 398.79 209.28 398.19 209.35 397.55 209.41 396.89 209.47 396.21 209.54 395.51 209.6 394.81 209.66 394.12 209.73 393.43 209.79 392.75 209.85 392.11 209.92 391.49 209.98 390.9 210.04 390.36 210.11 389.87 210.17 389.43 210.23 389.05 210.29 388.73 210.36 388.48 210.42 388.3 210.48 388.19 210.55 388.16 210.61 388.2 210.67 388.31 210.74 388.5 210.8 388.75 210.86 389.12 210.93 389.55 210.99 390.03 211.05 390.57 211.12 391.16 211.18 391.79 211.24 392.45 211.31 393.14 211.37 393.85 211.43 394.57 211.5 395.3 211.56 396.03 211.62 396.75 211.68 397.45 211.75 398.13 211.81 398.78 211.87 399.4 211.94 399.97 212 400.5 212.06 400.97 212.13 401.38 212.19 401.74 212.25 402.03 212.32 402.25 212.38 402.4 212.44 402.48 212.51 402.49 212.57 402.43 212.63 402.31 212.7 402.11 212.76 401.85 212.82 401.53 212.89 401.15 212.95 400.71 213.01 400.23 213.07 399.7 213.14 399.13 213.2 398.52 213.26 397.88 213.33 397.22 213.39 396.55 213.45 395.86 213.52 395.18 213.58 394.5 213.64 393.83 213.71 393.18 213.77 392.55 213.83 391.96 213.9 391.4 213.96 390.89 214.02 390.42 214.09 390.01 214.15 389.65 214.21 389.35 214.28 389.12 214.34 388.95 214.4 388.84 214.47 388.81 214.53 388.84 214.59 388.94 214.65 389.1 214.72 389.33 214.78 389.62 214.84 390.01 214.91 390.47 214.97 390.97 215.03 391.5 215.1 392.06 215.16 392.64 215.22 393.24 215.29 393.84 215.35 394.44 215.41 395.04 215.48 395.62 215.54 396.19 215.6 396.73 215.67 397.25 215.73 397.73 215.79 398.17 215.86 398.57 215.92 398.92 215.98 399.23 216.04 399.49 216.11 399.7 216.17 399.86 216.23 399.97 216.3 400.02 216.36 400.03 216.42 399.99 216.49 399.9 216.55 399.77 216.61 399.6 216.68 399.39 216.74 399.15 216.8 398.88 216.87 398.63 216.93 398.35 216.99 398.05 217.06 397.73 217.12 397.38 217.18 397.03 217.25 396.66 217.31 396.28 217.37 395.9 217.43 395.52 217.5 395.14 217.56 394.77 217.62 394.41 217.69 394.07 217.75 393.74 217.81 393.44 217.88 393.16 217.94 392.91 218 392.69 218.07 392.5 218.13 392.34 218.19 392.21 218.26 392.12 218.32 392.06 218.38 392.04 218.45 392.06 218.51 392.11 218.57 392.19 218.64 392.31 218.7 392.45 218.76 392.63 218.83 392.83 218.89 393.06 218.95 393.31 219.01 393.58 219.08 393.86 219.14 394.16 219.2 394.46 219.27 394.77 219.33 395.09 219.39 395.41 219.46 395.72 219.52 396.03 219.58 396.32 219.65 396.61 219.71 396.88 219.77 397.13 219.84 397.36 219.9 397.57 219.96 397.75 220.03 397.92 220.09 398.05 220.15 398.15 220.22 398.23 220.28 398.28 220.34 398.3 220.4 398.29 220.47 398.25 220.53 398.19 220.59 398.1 220.66 397.98 220.72 397.84 220.78 397.68 220.85 397.52 220.91 397.34 220.97 397.14 221.04 396.92 221.1 396.68 221.16 396.44 221.23 396.18 221.29 395.92 221.35 395.65 221.42 395.38 221.48 395.11 221.54 394.84 221.61 394.58 221.67 394.33 221.73 394.08 221.79 393.85 221.86 393.64 221.92 393.45 221.98 393.27 222.05 393.12 222.11 392.99 222.17 392.89 222.24 392.81 222.3 392.76 222.36 392.74 222.43 392.74 222.49 392.77 222.55 392.83 222.62 392.92 222.68 393.04 222.74 393.17 222.81 393.34 222.87 393.52 222.93 393.73 223 393.95 223.06 394.19 223.12 394.45 223.18 394.71 223.25 394.99 223.31 395.27 223.37 395.55 223.44 395.84 223.5 396.12 223.56 396.4 223.63 396.66 223.69 396.92 223.75 397.16 223.82 397.39 223.88 397.6 223.94 397.79 224.01 397.95 224.07 398.1 224.13 398.21 224.2 398.3 224.26 398.36 224.32 398.39 224.39 398.39 224.45 398.37 224.51 398.31 224.58 398.23 224.64 398.11 224.7 397.97 224.76 397.81 224.83 397.63 224.89 397.43 224.95 397.2 225.02 396.96 225.08 396.7 225.14 396.42 225.21 396.13 225.27 395.83 225.33 395.52 225.4 395.21 225.46 394.89 225.52 394.58 225.59 394.27 225.65 393.97 225.71 393.69 225.78 393.41 225.84 393.16 225.9 392.92 225.97 392.71 226.03 392.53 226.09 392.37 226.15 392.25 226.22 392.15 226.28 392.09 226.34 392.06 226.41 392.07 226.47 392.11 226.53 392.19 226.6 392.3 226.66 392.45 226.72 392.63 226.79 392.84 226.85 393.08 226.91 393.35 226.98 393.64 227.04 393.96 227.1 394.29 227.17 394.64 227.23 395.01 227.29 395.38 227.36 395.76 227.42 396.14 227.48 396.52 227.54 396.89 227.61 397.25 227.67 397.6 227.73 397.93 227.8 398.24 227.86 398.52 227.92 398.78 227.99 399 228.05 399.2 228.11 399.35 228.18 399.47 228.24 399.55 228.3 399.59 228.37 399.59 228.43 399.55 228.49 399.46 228.56 399.33 228.62 399.17 228.68 398.96 228.75 398.72 228.81 398.44 228.87 398.1 228.94 397.75 229 397.37 229.06 396.98 229.12 396.57 229.19 396.16 229.25 395.74 229.31 395.32 229.38 394.91 229.44 394.51 229.5 394.12 229.57 393.75 229.63 393.39 229.69 393.06 229.76 392.76 229.82 392.49 229.88 392.25 229.95 392.04 230.01 391.88 230.07 391.74 230.14 391.65 230.2 391.6 230.26 391.59 230.33 391.61 230.39 391.68 230.45 391.78 230.51 391.92 230.58 392.1 230.64 392.3 230.7 392.54 230.77 392.81 230.83 393.1 230.89 393.41 230.96 393.75 231.02 394.09 231.08 394.45 231.15 394.82 231.21 395.19 231.27 395.56 231.34 395.93 231.4 396.29 231.46 396.64 231.53 396.97 231.59 397.29 231.65 397.59 231.72 397.86 231.78 398.11 231.84 398.33 231.9 398.51 231.97 398.67 232.03 398.79 232.09 398.88 232.16 398.94 232.22 398.96 232.28 398.94 232.35 398.89 232.41 398.81 232.47 398.69 232.54 398.54 232.6 398.36" fill="none" stroke="#5690d2" stroke-width="0.9" clip-path="url(#clc)"/>
<rect x="144.2" y="361.2" width="88.4" height="66.1" fill="none" stroke="#707070" stroke-width="0.8"/>
<line x1="148.22" y1="427.3" x2="148.22" y2="425.8" class="ai"/>
<line x1="148.22" y1="361.2" x2="148.22" y2="362.7" class="ai"/>
<text x="148.22" y="436.5" class="it" text-anchor="middle">-100</text>
<line x1="188.4" y1="427.3" x2="188.4" y2="425.8" class="ai"/>
<line x1="188.4" y1="361.2" x2="188.4" y2="362.7" class="ai"/>
<text x="188.4" y="436.5" class="it" text-anchor="middle">0</text>
<line x1="228.58" y1="427.3" x2="228.58" y2="425.8" class="ai"/>
<line x1="228.58" y1="361.2" x2="228.58" y2="362.7" class="ai"/>
<text x="228.58" y="436.5" class="it" text-anchor="middle">100</text>
<line x1="144.2" y1="422.1" x2="145.7" y2="422.1" class="ai"/>
<line x1="232.6" y1="422.1" x2="231.1" y2="422.1" class="ai"/>
<text x="142.2" y="424.7" class="it" text-anchor="end">-0.2</text>
<line x1="144.2" y1="395.5" x2="145.7" y2="395.5" class="ai"/>
<line x1="232.6" y1="395.5" x2="231.1" y2="395.5" class="ai"/>
<text x="142.2" y="398.1" class="it" text-anchor="end">0</text>
<line x1="144.2" y1="368.9" x2="145.7" y2="368.9" class="ai"/>
<line x1="232.6" y1="368.9" x2="231.1" y2="368.9" class="ai"/>
<text x="142.2" y="371.5" class="it" text-anchor="end">0.2</text>
<text x="188.4" y="445.9" class="il" text-anchor="middle">Time [ns]</text>
<text transform="translate(126.4 394.85) rotate(-90)" class="il" text-anchor="middle">Voltage [V]</text>
<rect x="579.6" y="304.1" width="88.2" height="65.9" fill="#fff"/>
<clipPath id="cld"><rect x="579.6" y="304.1" width="88.2" height="65.9"/></clipPath>
<path d="M579.6 335.43 579.66 335.41 579.73 335.41 579.79 335.42 579.85 335.45 579.92 335.49 579.98 335.56 580.04 335.64 580.1 335.73 580.17 335.85 580.23 335.98 580.29 336.12 580.36 336.28 580.42 336.45 580.48 336.63 580.55 336.82 580.61 337.02 580.67 337.23 580.73 337.44 580.8 337.65 580.86 337.86 580.92 338.07 580.99 338.27 581.05 338.47 581.11 338.66 581.18 338.84 581.24 339 581.3 339.15 581.37 339.29 581.43 339.4 581.49 339.5 581.55 339.57 581.62 339.62 581.68 339.65 581.74 339.65 581.81 339.62 581.87 339.57 581.93 339.49 582 339.39 582.06 339.26 582.12 339.11 582.18 338.93 582.25 338.73 582.31 338.51 582.37 338.27 582.44 338.01 582.5 337.74 582.56 337.45 582.63 337.15 582.69 336.85 582.75 336.54 582.82 336.23 582.88 335.92 582.94 335.61 583 335.31 583.07 335.02 583.13 334.75 583.19 334.49 583.26 334.26 583.32 334.04 583.38 333.85 583.45 333.69 583.51 333.57 583.57 333.47 583.63 333.41 583.7 333.38 583.76 333.39 583.82 333.43 583.89 333.52 583.95 333.64 584.01 333.8 584.08 334 584.14 334.23 584.2 334.5 584.27 334.79 584.33 335.12 584.39 335.48 584.45 335.86 584.52 336.26 584.58 336.68 584.64 337.11 584.71 337.55 584.77 337.99 584.83 338.44 584.9 338.89 584.96 339.32 585.02 339.74 585.08 340.15 585.15 340.53 585.21 340.89 585.27 341.22 585.34 341.51 585.4 341.77 585.46 341.98 585.53 342.15 585.59 342.28 585.65 342.35 585.72 342.38 585.78 342.35 585.84 342.27 585.9 342.13 585.97 341.94 586.03 341.7 586.09 341.41 586.16 341.07 586.22 340.68 586.28 340.25 586.35 339.78 586.41 339.27 586.47 338.73 586.53 338.16 586.6 337.57 586.66 336.97 586.72 336.35 586.79 335.73 586.85 335.11 586.91 334.49 586.98 333.89 587.04 333.31 587.1 332.76 587.17 332.24 587.23 331.76 587.29 331.32 587.35 330.93 587.42 330.59 587.48 330.31 587.54 330.1 587.61 329.95 587.67 329.86 587.73 329.85 587.8 329.91 587.86 330.05 587.92 330.25 587.98 330.53 588.05 330.88 588.11 331.3 588.17 331.78 588.24 332.33 588.3 332.93 588.36 333.59 588.43 334.29 588.49 335.03 588.55 335.81 588.62 336.62 588.68 337.44 588.74 338.28 588.8 339.12 588.87 339.96 588.93 340.78 588.99 341.58 589.06 342.35 589.12 343.08 589.18 343.77 589.25 344.4 589.31 344.97 589.37 345.47 589.44 345.9 589.5 346.25 589.56 346.51 589.62 346.68 589.69 346.76 589.75 346.75 589.81 346.64 589.88 346.44 589.94 346.13 590 345.74 590.07 345.25 590.13 344.67 590.19 344.01 590.25 343.26 590.32 342.44 590.38 341.56 590.44 340.62 590.51 339.62 590.57 338.59 590.63 337.52 590.7 336.43 590.76 335.33 590.82 334.23 590.89 333.15 590.95 332.08 591.01 331.04 591.07 330.05 591.14 329.11 591.2 328.24 591.26 327.44 591.33 326.72 591.39 326.1 591.45 325.58 591.52 325.16 591.58 324.85 591.64 324.66 591.7 324.59 591.77 324.64 591.83 324.82 591.89 325.12 591.96 325.55 592.02 326.09 592.08 326.76 592.15 327.53 592.21 328.41 592.27 329.4 592.34 330.47 592.4 331.62 592.46 332.85 592.52 334.13 592.59 335.46 592.65 336.83 592.71 338.22 592.78 339.62 592.84 341.02 592.9 342.4 592.97 343.74 593.03 345.03 593.09 346.27 593.15 347.43 593.22 348.51 593.28 349.49 593.34 350.36 593.41 351.11 593.47 351.73 593.53 352.22 593.6 352.56 593.66 352.75 593.72 352.8 593.79 352.69 593.85 352.42 593.91 351.99 593.97 351.42 594.04 350.69 594.1 349.82 594.16 348.82 594.23 347.68 594.29 346.43 594.35 345.07 594.42 343.61 594.48 342.07 594.54 340.46 594.6 338.79 594.67 337.09 594.73 335.37 594.79 333.64 594.86 331.93 594.92 330.24 594.98 328.61 595.05 327.03 595.11 325.54 595.17 324.15 595.24 322.86 595.3 321.7 595.36 320.68 595.42 319.81 595.49 319.1 595.55 318.55 595.61 318.19 595.68 318.01 595.74 318.01 595.8 318.2 595.87 318.58 595.93 319.15 595.99 319.9 596.05 320.83 596.12 321.93 596.18 323.19 596.24 324.61 596.31 326.16 596.37 327.84 596.43 329.62 596.5 331.5 596.56 333.46 596.62 335.47 596.69 337.52 596.75 339.58 596.81 341.65 596.87 343.69 596.94 345.68 597 347.62 597.06 349.46 597.13 351.21 597.19 352.83 597.25 354.32 597.32 355.65 597.38 356.81 597.44 357.79 597.5 358.57 597.57 359.15 597.63 359.52 597.69 359.67 597.76 359.6 597.82 359.31 597.88 358.79 597.95 358.06 598.01 357.12 598.07 355.97 598.14 354.62 598.2 353.08 598.26 351.38 598.32 349.52 598.39 347.52 598.45 345.4 598.51 343.18 598.58 340.89 598.64 338.53 598.7 336.14 598.77 333.74 598.83 331.35 598.89 329 598.95 326.7 599.02 324.49 599.08 322.39 599.14 320.41 599.21 318.59 599.27 316.93 599.33 315.45 599.4 314.18 599.46 313.12 599.52 312.29 599.59 311.69 599.65 311.34 599.71 311.24 599.77 311.4 599.84 311.81 599.9 312.47 599.96 313.38 600.03 314.53 600.09 315.91 600.15 317.5 600.22 319.3 600.28 321.29 600.34 323.45 600.4 325.76 600.47 328.19 600.53 330.73 600.59 333.35 600.66 336.02 600.72 338.72 600.78 341.43 600.85 344.1 600.91 346.73 600.97 349.28 601.04 351.73 601.1 354.05 601.16 356.21 601.22 358.2 601.29 360 601.35 361.58 601.41 362.93 601.48 364.04 601.54 364.89 601.6 365.47 601.67 365.77 601.73 365.8 601.79 365.54 601.85 365 601.92 364.19 601.98 363.1 602.04 361.76 602.11 360.16 602.17 358.33 602.23 356.29 602.3 354.04 602.36 351.62 602.42 349.04 602.49 346.33 602.55 343.52 602.61 340.63 602.67 337.69 602.74 334.74 602.8 331.79 602.86 328.88 602.93 326.04 602.99 323.29 603.05 320.67 603.12 318.2 603.18 315.9 603.24 313.8 603.3 311.92 603.37 310.28 603.43 308.9 603.49 307.79 603.56 306.96 603.62 306.42 603.68 306.18 603.75 306.25 603.81 306.62 603.87 307.28 603.94 308.24 604 309.49 604.06 311.02 604.12 312.8 604.19 314.83 604.25 317.08 604.31 319.53 604.38 322.17 604.44 324.96 604.5 327.88 604.57 330.89 604.63 333.98 604.69 337.1 604.75 340.24 604.82 343.35 604.88 346.4 604.94 349.38 605.01 352.24 605.07 354.96 605.13 357.51 605.2 359.86 605.26 362 605.32 363.9 605.39 365.54 605.45 366.9 605.51 367.98 605.57 368.76 605.64 369.22 605.7 369.37 605.76 369.21 605.83 368.73 605.89 367.94 605.95 366.85 606.02 365.47 606.08 363.8 606.14 361.87 606.21 359.7 606.27 357.3 606.33 354.71 606.39 351.93 606.46 349.01 606.52 345.97 606.58 342.84 606.65 339.66 606.71 336.44 606.77 333.23 606.84 330.05 606.9 326.95 606.96 323.94 607.02 321.05 607.09 318.33 607.15 315.79 607.21 313.45 607.28 311.35 607.34 309.5 607.4 307.92 607.47 306.62 607.53 305.62 607.59 304.93 607.66 304.56 607.72 304.51 607.78 304.77 607.84 305.35 607.91 306.24 607.97 307.44 608.03 308.92 608.1 310.67 608.16 312.69 608.22 314.94 608.29 317.41 608.35 320.06 608.41 322.88 608.47 325.84 608.54 328.9 608.6 332.04 608.66 335.23 608.73 338.42 608.79 341.6 608.85 344.74 608.92 347.79 608.98 350.73 609.04 353.53 609.11 356.17 609.17 358.62 609.23 360.85 609.29 362.84 609.36 364.58 609.42 366.04 609.48 367.22 609.55 368.1 609.61 368.68 609.67 368.94 609.74 368.9 609.8 368.54 609.86 367.87 609.92 366.91 609.99 365.65 610.05 364.12 610.11 362.33 610.18 360.3 610.24 358.05 610.3 355.6 610.37 352.98 610.43 350.21 610.49 347.32 610.56 344.34 610.62 341.3 610.68 338.23 610.74 335.16 610.81 332.12 610.87 329.15 610.93 326.26 611 323.49 611.06 320.86 611.12 318.4 611.19 316.14 611.25 314.09 611.31 312.28 611.37 310.71 611.44 309.41 611.5 308.39 611.56 307.66 611.63 307.22 611.69 307.07 611.75 307.21 611.82 307.65 611.88 308.38 611.94 309.38 612.01 310.65 612.07 312.17 612.13 313.92 612.19 315.9 612.26 318.07 612.32 320.41 612.38 322.91 612.45 325.53 612.51 328.25 612.57 331.03 612.64 333.87 612.7 336.71 612.76 339.54 612.82 342.33 612.89 345.05 612.95 347.68 613.01 350.19 613.08 352.55 613.14 354.74 613.2 356.74 613.27 358.54 613.33 360.12 613.39 361.46 613.46 362.55 613.52 363.38 613.58 363.95 613.64 364.25 613.71 364.28 613.77 364.05 613.83 363.55 613.9 362.8 613.96 361.8 614.02 360.57 614.09 359.12 614.15 357.46 614.21 355.62 614.27 353.61 614.34 351.45 614.4 349.17 614.46 346.8 614.53 344.34 614.59 341.84 614.65 339.32 614.72 336.79 614.78 334.3 614.84 331.85 614.91 329.48 614.97 327.2 615.03 325.04 615.09 323.03 615.16 321.17 615.22 319.49 615.28 317.99 615.35 316.7 615.41 315.63 615.47 314.77 615.54 314.15 615.6 313.75 615.66 313.6 615.72 313.67 615.79 313.97 615.85 314.5 615.91 315.25 615.98 316.2 616.04 317.35 616.1 318.68 616.17 320.18 616.23 321.82 616.29 323.6 616.36 325.49 616.42 327.47 616.48 329.52 616.54 331.62 616.61 333.75 616.67 335.89 616.73 338.01 616.8 340.09 616.86 342.12 616.92 344.07 616.99 345.92 617.05 347.66 617.11 349.28 617.17 350.75 617.24 352.06 617.3 353.21 617.36 354.18 617.43 354.97 617.49 355.57 617.55 355.98 617.62 356.19 617.68 356.21 617.74 356.04 617.81 355.68 617.87 355.15 617.93 354.44 617.99 353.57 618.06 352.55 618.12 351.4 618.18 350.12 618.25 348.73 618.31 347.25 618.37 345.69 618.44 344.07 618.5 342.41 618.56 340.73 618.62 339.04 618.69 337.36 618.75 335.71 618.81 334.11 618.88 332.56 618.94 331.09 619 329.71 619.07 328.43 619.13 327.26 619.19 326.22 619.26 325.3 619.32 324.53 619.38 323.89 619.44 323.41 619.51 323.07 619.57 322.88 619.63 322.85 619.7 322.95 619.76 323.2 619.82 323.59 619.89 324.11 619.95 324.74 620.01 325.49 620.07 326.34 620.14 327.28 620.2 328.3 620.26 329.38 620.33 330.52 620.39 331.7 620.45 332.9 620.52 334.11 620.58 335.32 620.64 336.52 620.71 337.69 620.77 338.83 620.83 339.91 620.89 340.93 620.96 341.89 621.02 342.76 621.08 343.55 621.15 344.24 621.21 344.84 621.27 345.33 621.34 345.73 621.4 346.01 621.46 346.19 621.52 346.26 621.59 346.24 621.65 346.11 621.71 345.89 621.78 345.57 621.84 345.18 621.9 344.71 621.97 344.17 622.03 343.57 622.09 342.92 622.16 342.23 622.22 341.51 622.28 340.77 622.34 340.02 622.41 339.26 622.47 338.51 622.53 337.78 622.6 337.07 622.66 336.4 622.72 335.77 622.79 335.18 622.85 334.65 622.91 334.17 622.97 333.76 623.04 333.41 623.1 333.13 623.16 332.92 623.23 332.78 623.29 332.71 623.35 332.71 623.42 332.77 623.48 332.89 623.54 333.08 623.61 333.31 623.67 333.59 623.73 333.91 623.79 334.26 623.86 334.65 623.92 335.05 623.98 335.47 624.05 335.89 624.11 336.31 624.17 336.73 624.24 337.12 624.3 337.5 624.36 337.84 624.43 338.15 624.49 338.42 624.55 338.65 624.61 338.83 624.68 338.96 624.74 339.04 624.8 339.07 624.87 339.04 624.93 338.95 624.99 338.82 625.06 338.63 625.12 338.4 625.18 338.12 625.24 337.81 625.31 337.46 625.37 337.08 625.43 336.68 625.5 336.27 625.56 335.85 625.62 335.43 625.69 335.01 625.75 334.61 625.81 334.23 625.88 333.87 625.94 333.56 626 333.28 626.06 333.05 626.13 332.88 626.19 332.76 626.25 332.71 626.32 332.72 626.38 332.8 626.44 332.94 626.51 333.16 626.57 333.45 626.63 333.8 626.69 334.22 626.76 334.7 626.82 335.24 626.88 335.83 626.95 336.47 627.01 337.15 627.07 337.86 627.14 338.59 627.2 339.34 627.26 340.1 627.33 340.85 627.39 341.59 627.45 342.31 627.51 342.99 627.58 343.64 627.64 344.23 627.7 344.76 627.77 345.22 627.83 345.61 627.89 345.91 627.96 346.13 628.02 346.24 628.08 346.26 628.14 346.18 628.21 345.99 628.27 345.69 628.33 345.29 628.4 344.78 628.46 344.17 628.52 343.47 628.59 342.67 628.65 341.79 628.71 340.83 628.78 339.8 628.84 338.71 628.9 337.57 628.96 336.4 629.03 335.2 629.09 333.98 629.15 332.77 629.22 331.57 629.28 330.4 629.34 329.27 629.41 328.19 629.47 327.18 629.53 326.25 629.59 325.41 629.66 324.67 629.72 324.05 629.78 323.54 629.85 323.17 629.91 322.94 629.97 322.84 630.04 322.9 630.1 323.1 630.16 323.45 630.23 323.95 630.29 324.6 630.35 325.39 630.41 326.32 630.48 327.38 630.54 328.56 630.6 329.85 630.67 331.24 630.73 332.72 630.79 334.27 630.86 335.88 630.92 337.54 630.98 339.22 631.04 340.91 631.11 342.59 631.17 344.24 631.23 345.85 631.3 347.4 631.36 348.88 631.42 350.26 631.49 351.52 631.55 352.67 631.61 353.67 631.68 354.52 631.74 355.21 631.8 355.73 631.86 356.07 631.93 356.22 631.99 356.18 632.05 355.94 632.12 355.52 632.18 354.9 632.24 354.09 632.31 353.1 632.37 351.93 632.43 350.6 632.49 349.12 632.56 347.49 632.62 345.73 632.68 343.87 632.75 341.91 632.81 339.88 632.87 337.79 632.94 335.67 633 333.53 633.06 331.4 633.13 329.31 633.19 327.26 633.25 325.29 633.31 323.41 633.38 321.65 633.44 320.02 633.5 318.54 633.57 317.22 633.63 316.1 633.69 315.16 633.76 314.44 633.82 313.93 633.88 313.65 633.94 313.6 634.01 313.78 634.07 314.2 634.13 314.85 634.2 315.73 634.26 316.83 634.32 318.14 634.39 319.65 634.45 321.36 634.51 323.23 634.58 325.26 634.64 327.43 634.7 329.72 634.76 332.1 634.83 334.56 634.89 337.06 634.95 339.58 635.02 342.11 635.08 344.6 635.14 347.05 635.21 349.41 635.27 351.68 635.33 353.82 635.39 355.82 635.46 357.64 635.52 359.28 635.58 360.71 635.65 361.92 635.71 362.89 635.77 363.62 635.84 364.09 635.9 364.29 635.96 364.23 636.03 363.9 636.09 363.31 636.15 362.45 636.21 361.33 636.28 359.96 636.34 358.36 636.4 356.54 636.47 354.52 636.53 352.31 636.59 349.93 636.66 347.41 636.72 344.77 636.78 342.05 636.84 339.25 636.91 336.41 636.97 333.57 637.03 330.74 637.1 327.96 637.16 325.25 637.22 322.64 637.29 320.16 637.35 317.83 637.41 315.68 637.48 313.73 637.54 312 637.6 310.5 637.66 309.26 637.73 308.29 637.79 307.59 637.85 307.18 637.92 307.07 637.98 307.25 638.04 307.72 638.11 308.49 638.17 309.54 638.23 310.86 638.29 312.45 638.36 314.29 638.42 316.37 638.48 318.65 638.55 321.13 638.61 323.77 638.67 326.55 638.74 329.45 638.8 332.44 638.86 335.48 638.93 338.55 638.99 341.62 639.05 344.65 639.11 347.63 639.18 350.5 639.24 353.26 639.3 355.87 639.37 358.3 639.43 360.53 639.49 362.53 639.56 364.3 639.62 365.8 639.68 367.02 639.74 367.95 639.81 368.59 639.87 368.91 639.93 368.93 640 368.63 640.06 368.03 640.12 367.11 640.19 365.9 640.25 364.41 640.31 362.65 640.38 360.63 640.44 358.37 640.5 355.91 640.56 353.25 640.63 350.43 640.69 347.47 640.75 344.41 640.82 341.27 640.88 338.09 640.94 334.89 641.01 331.71 641.07 328.58 641.13 325.53 641.19 322.58 641.26 319.78 641.32 317.14 641.38 314.7 641.45 312.47 641.51 310.48 641.57 308.75 641.64 307.3 641.7 306.14 641.76 305.28 641.83 304.73 641.89 304.5 641.95 304.59 642.01 304.99 642.08 305.71 642.14 306.74 642.2 308.07 642.27 309.68 642.33 311.56 642.39 313.68 642.46 316.04 642.52 318.6 642.58 321.35 642.65 324.24 642.71 327.27 642.77 330.38 642.83 333.56 642.9 336.78 642.96 339.99 643.02 343.17 643.09 346.29 643.15 349.32 643.21 352.23 643.28 354.99 643.34 357.56 643.4 359.94 643.46 362.09 643.53 363.99 643.59 365.63 643.65 366.98 643.72 368.04 643.78 368.8 643.84 369.24 643.91 369.37 643.97 369.19 644.03 368.69 644.1 367.88 644.16 366.78 644.22 365.38 644.28 363.71 644.35 361.79 644.41 359.63 644.47 357.25 644.54 354.68 644.6 351.94 644.66 349.07 644.73 346.09 644.79 343.02 644.85 339.91 644.91 336.78 644.98 333.65 645.04 330.57 645.1 327.57 645.17 324.66 645.23 321.89 645.29 319.27 645.36 316.83 645.42 314.6 645.48 312.6 645.55 310.84 645.61 309.35 645.67 308.13 645.73 307.2 645.8 306.56 645.86 306.23 645.92 306.19 645.99 306.46 646.05 307.03 646.11 307.89 646.18 309.03 646.24 310.44 646.3 312.11 646.36 314.01 646.43 316.13 646.49 318.45 646.55 320.94 646.62 323.57 646.68 326.33 646.74 329.18 646.81 332.09 646.87 335.04 646.93 338 647 340.93 647.06 343.82 647.12 346.62 647.18 349.31 647.25 351.88 647.31 354.28 647.37 356.51 647.44 358.54 647.5 360.34 647.56 361.91 647.63 363.23 647.69 364.29 647.75 365.07 647.81 365.58 647.88 365.81 647.94 365.75 648 365.42 648.07 364.81 648.13 363.94 648.19 362.8 648.26 361.43 648.32 359.82 648.38 358 648.45 355.99 648.51 353.81 648.57 351.48 648.63 349.02 648.7 346.46 648.76 343.83 648.82 341.14 648.89 338.44 648.95 335.74 649.01 333.07 649.08 330.46 649.14 327.93 649.2 325.51 649.26 323.22 649.33 321.08 649.39 319.11 649.45 317.33 649.52 315.75 649.58 314.4 649.64 313.27 649.71 312.39 649.77 311.76 649.83 311.37 649.9 311.24 649.96 311.37 650.02 311.74 650.08 312.36 650.15 313.22 650.21 314.3 650.27 315.59 650.34 317.09 650.4 318.77 650.46 320.61 650.53 322.6 650.59 324.72 650.65 326.94 650.71 329.24 650.78 331.6 650.84 333.99 650.9 336.39 650.97 338.78 651.03 341.13 651.09 343.42 651.16 345.63 651.22 347.74 651.28 349.72 651.35 351.57 651.41 353.25 651.47 354.77 651.53 356.09 651.6 357.22 651.66 358.15 651.72 358.86 651.79 359.35 651.85 359.62 651.91 359.67 651.98 359.49 652.04 359.1 652.1 358.5 652.16 357.69 652.23 356.7 652.29 355.52 652.35 354.17 652.42 352.67 652.48 351.03 652.54 349.28 652.61 347.42 652.67 345.48 652.73 343.48 652.8 341.43 652.86 339.37 652.92 337.3 652.98 335.26 653.05 333.25 653.11 331.3 653.17 329.43 653.24 327.66 653.3 325.99 653.36 324.45 653.43 323.06 653.49 321.81 653.55 320.73 653.61 319.82 653.68 319.08 653.74 318.53 653.8 318.17 653.87 318 653.93 318.02 653.99 318.22 654.06 318.6 654.12 319.16 654.18 319.89 654.25 320.78 654.31 321.82 654.37 322.99 654.43 324.29 654.5 325.69 654.56 327.2 654.62 328.78 654.69 330.42 654.75 332.11 654.81 333.82 654.88 335.55 654.94 337.27 655 338.97 655.06 340.63 655.13 342.23 655.19 343.76 655.25 345.21 655.32 346.57 655.38 347.81 655.44 348.93 655.51 349.92 655.57 350.78 655.63 351.49 655.7 352.05 655.76 352.45 655.82 352.7 655.88 352.8 655.95 352.74 656.01 352.53 656.07 352.17 656.14 351.67 656.2 351.04 656.26 350.27 656.33 349.39 656.39 348.4 656.45 347.32 656.51 346.15 656.58 344.9 656.64 343.6 656.7 342.25 656.77 340.87 656.83 339.48 656.89 338.08 656.96 336.69 657.02 335.32 657.08 334 657.15 332.72 657.21 331.5 657.27 330.35 657.33 329.29 657.4 328.32 657.46 327.45 657.52 326.68 657.59 326.03 657.65 325.5 657.71 325.08 657.78 324.8 657.84 324.63 657.9 324.59 657.96 324.67 658.03 324.88 658.09 325.2 658.15 325.63 658.22 326.16 658.28 326.8 658.34 327.52 658.41 328.33 658.47 329.21 658.53 330.15 658.6 331.15 658.66 332.19 658.72 333.26 658.78 334.35 658.85 335.45 658.91 336.55 658.97 337.64 659.04 338.7 659.1 339.73 659.16 340.72 659.23 341.66 659.29 342.53 659.35 343.34 659.42 344.08 659.48 344.73 659.54 345.3 659.6 345.78 659.67 346.17 659.73 346.46 659.79 346.66 659.86 346.76 659.92 346.76 659.98 346.67 660.05 346.49 660.11 346.21 660.17 345.86 660.23 345.42 660.3 344.91 660.36 344.33 660.42 343.7 660.49 343.01 660.55 342.27 660.61 341.5 660.68 340.69 660.74 339.87 660.8 339.03 660.87 338.19 660.93 337.36 660.99 336.53 661.05 335.73 661.12 334.95 661.18 334.21 661.24 333.51 661.31 332.86 661.37 332.27 661.43 331.73 661.5 331.25 661.56 330.84 661.62 330.5 661.68 330.23 661.75 330.03 661.81 329.9 661.87 329.85 661.94 329.87 662 329.96 662.06 330.12 662.13 330.34 662.19 330.62 662.25 330.96 662.32 331.36 662.38 331.8 662.44 332.29 662.5 332.82 662.57 333.37 662.63 333.96 662.69 334.56 662.76 335.17 662.82 335.79 662.88 336.42 662.95 337.03 663.01 337.64 663.07 338.22 663.13 338.79 663.2 339.33 663.26 339.83 663.32 340.3 663.39 340.72 663.45 341.11 663.51 341.44 663.58 341.73 663.64 341.96 663.7 342.15 663.77 342.28 663.83 342.35 663.89 342.38 663.95 342.35 664.02 342.27 664.08 342.14 664.14 341.96 664.21 341.74 664.27 341.48 664.33 341.19 664.4 340.86 664.46 340.49 664.52 340.11 664.58 339.7 664.65 339.28 664.71 338.84 664.77 338.4 664.84 337.95 664.9 337.5 664.96 337.06 665.03 336.63 665.09 336.22 665.15 335.82 665.22 335.44 665.28 335.09 665.34 334.76 665.4 334.47 665.47 334.2 665.53 333.98 665.59 333.78 665.66 333.63 665.72 333.51 665.78 333.43 665.85 333.38 665.91 333.38 665.97 333.41 666.03 333.48 666.1 333.58 666.16 333.71 666.22 333.87 666.29 334.06 666.35 334.28 666.41 334.52 666.48 334.78 666.54 335.05 666.6 335.34 666.67 335.64 666.73 335.95 666.79 336.26 666.85 336.57 666.92 336.88 666.98 337.19 667.04 337.48 667.11 337.77 667.17 338.04 667.23 338.3 667.3 338.54 667.36 338.76 667.42 338.95 667.48 339.13 667.55 339.28 667.61 339.4 667.67 339.5 667.74 339.58 667.8 339.63" fill="none" stroke="#5690d2" stroke-width="0.9" clip-path="url(#cld)"/>
<rect x="579.6" y="304.1" width="88.2" height="65.9" fill="none" stroke="#707070" stroke-width="0.8"/>
<line x1="583.61" y1="370" x2="583.61" y2="368.5" class="ai"/>
<line x1="583.61" y1="304.1" x2="583.61" y2="305.6" class="ai"/>
<text x="583.61" y="379.2" class="it" text-anchor="middle">-100</text>
<line x1="623.7" y1="370" x2="623.7" y2="368.5" class="ai"/>
<line x1="623.7" y1="304.1" x2="623.7" y2="305.6" class="ai"/>
<text x="623.7" y="379.2" class="it" text-anchor="middle">0</text>
<line x1="663.79" y1="370" x2="663.79" y2="368.5" class="ai"/>
<line x1="663.79" y1="304.1" x2="663.79" y2="305.6" class="ai"/>
<text x="663.79" y="379.2" class="it" text-anchor="middle">100</text>
<line x1="579.6" y1="363.5" x2="581.1" y2="363.5" class="ai"/>
<line x1="667.8" y1="363.5" x2="666.3" y2="363.5" class="ai"/>
<text x="578.4" y="366.1" class="it" text-anchor="end">-0.2</text>
<line x1="579.6" y1="310.7" x2="581.1" y2="310.7" class="ai"/>
<line x1="667.8" y1="310.7" x2="666.3" y2="310.7" class="ai"/>
<text x="578.4" y="313.3" class="it" text-anchor="end">0.2</text>
<text x="623.7" y="388.6" class="il" text-anchor="middle">Time [ns]</text>
<text transform="translate(571.8 335.15) rotate(-90)" class="il" text-anchor="middle">Voltage [V]</text>
</svg></body></html>
